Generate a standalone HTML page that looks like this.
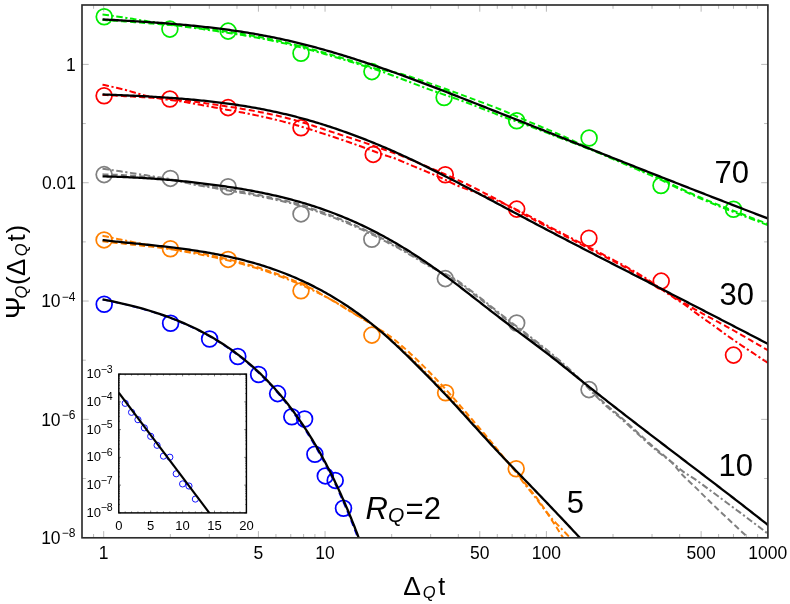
<!DOCTYPE html>
<html><head><meta charset="utf-8"><title>chart</title>
<style>html,body{margin:0;padding:0;background:#fff;overflow:hidden}svg{display:block;will-change:transform}text{font-family:"Liberation Sans",sans-serif}</style>
</head><body>
<svg width="790" height="604" viewBox="0 0 790 604" style="display:block">
<rect x="0" y="0" width="790" height="604" fill="#fff"/>
<defs><clipPath id="cp"><rect x="82.0" y="5.0" width="685.9" height="532.8"/></clipPath><clipPath id="ci"><rect x="118.8" y="374.1" width="127.6" height="138.8"/></clipPath></defs>
<g clip-path="url(#cp)" fill="none">
<circle cx="104.2" cy="16.8" r="7.9" stroke="#00ec00" stroke-width="1.75"/>
<circle cx="169.9" cy="29.1" r="7.9" stroke="#00ec00" stroke-width="1.75"/>
<circle cx="228.1" cy="31.1" r="7.9" stroke="#00ec00" stroke-width="1.75"/>
<circle cx="301" cy="53.2" r="7.9" stroke="#00ec00" stroke-width="1.75"/>
<circle cx="371.9" cy="71.6" r="7.9" stroke="#00ec00" stroke-width="1.75"/>
<circle cx="444.1" cy="97.5" r="7.9" stroke="#00ec00" stroke-width="1.75"/>
<circle cx="516.7" cy="120.8" r="7.9" stroke="#00ec00" stroke-width="1.75"/>
<circle cx="589.1" cy="138" r="7.9" stroke="#00ec00" stroke-width="1.75"/>
<circle cx="661" cy="185.5" r="7.9" stroke="#00ec00" stroke-width="1.75"/>
<circle cx="733.5" cy="209.2" r="7.9" stroke="#00ec00" stroke-width="1.75"/>
<circle cx="104.1" cy="95.7" r="7.9" stroke="#ff0000" stroke-width="1.75"/>
<circle cx="169.9" cy="99" r="7.9" stroke="#ff0000" stroke-width="1.75"/>
<circle cx="228.1" cy="107.6" r="7.9" stroke="#ff0000" stroke-width="1.75"/>
<circle cx="301" cy="127.8" r="7.9" stroke="#ff0000" stroke-width="1.75"/>
<circle cx="373.2" cy="154.4" r="7.9" stroke="#ff0000" stroke-width="1.75"/>
<circle cx="445.3" cy="174.7" r="7.9" stroke="#ff0000" stroke-width="1.75"/>
<circle cx="516.7" cy="209.1" r="7.9" stroke="#ff0000" stroke-width="1.75"/>
<circle cx="588.9" cy="238.2" r="7.9" stroke="#ff0000" stroke-width="1.75"/>
<circle cx="661.2" cy="281.1" r="7.9" stroke="#ff0000" stroke-width="1.75"/>
<circle cx="733.5" cy="355.1" r="7.9" stroke="#ff0000" stroke-width="1.75"/>
<circle cx="104.1" cy="174.6" r="7.9" stroke="#808080" stroke-width="1.75"/>
<circle cx="170.4" cy="178.4" r="7.9" stroke="#808080" stroke-width="1.75"/>
<circle cx="228.1" cy="186.7" r="7.9" stroke="#808080" stroke-width="1.75"/>
<circle cx="301" cy="213.9" r="7.9" stroke="#808080" stroke-width="1.75"/>
<circle cx="371.8" cy="239.3" r="7.9" stroke="#808080" stroke-width="1.75"/>
<circle cx="445.3" cy="278.6" r="7.9" stroke="#808080" stroke-width="1.75"/>
<circle cx="516.7" cy="323" r="7.9" stroke="#808080" stroke-width="1.75"/>
<circle cx="589" cy="389.6" r="7.9" stroke="#808080" stroke-width="1.75"/>
<circle cx="104.1" cy="239.9" r="7.9" stroke="#ff8000" stroke-width="1.75"/>
<circle cx="170.4" cy="248.7" r="7.9" stroke="#ff8000" stroke-width="1.75"/>
<circle cx="228.1" cy="259.4" r="7.9" stroke="#ff8000" stroke-width="1.75"/>
<circle cx="301" cy="290.8" r="7.9" stroke="#ff8000" stroke-width="1.75"/>
<circle cx="371.9" cy="335.1" r="7.9" stroke="#ff8000" stroke-width="1.75"/>
<circle cx="445.6" cy="392.8" r="7.9" stroke="#ff8000" stroke-width="1.75"/>
<circle cx="516.2" cy="468.8" r="7.9" stroke="#ff8000" stroke-width="1.75"/>
<circle cx="104.2" cy="304.2" r="7.9" stroke="#0000ff" stroke-width="1.75"/>
<circle cx="170.6" cy="323.3" r="7.9" stroke="#0000ff" stroke-width="1.75"/>
<circle cx="209.6" cy="339" r="7.9" stroke="#0000ff" stroke-width="1.75"/>
<circle cx="237.8" cy="356.5" r="7.9" stroke="#0000ff" stroke-width="1.75"/>
<circle cx="258.6" cy="374.5" r="7.9" stroke="#0000ff" stroke-width="1.75"/>
<circle cx="277.6" cy="393.6" r="7.9" stroke="#0000ff" stroke-width="1.75"/>
<circle cx="291.8" cy="416.7" r="7.9" stroke="#0000ff" stroke-width="1.75"/>
<circle cx="304.6" cy="419" r="7.9" stroke="#0000ff" stroke-width="1.75"/>
<circle cx="314.9" cy="454.3" r="7.9" stroke="#0000ff" stroke-width="1.75"/>
<circle cx="325.3" cy="475.9" r="7.9" stroke="#0000ff" stroke-width="1.75"/>
<circle cx="335.2" cy="480.4" r="7.9" stroke="#0000ff" stroke-width="1.75"/>
<circle cx="343.5" cy="508.2" r="7.9" stroke="#0000ff" stroke-width="1.75"/>
<path d="M102.50 19.89 L104.50 20.01 L106.50 20.15 L108.50 20.28 L110.50 20.42 L112.50 20.56 L114.50 20.70 L116.50 20.83 L118.50 20.97 L120.50 21.11 L122.50 21.26 L124.50 21.40 L126.50 21.54 L128.50 21.69 L130.50 21.84 L132.50 21.98 L134.50 22.13 L136.50 22.28 L138.50 22.44 L140.50 22.59 L142.50 22.75 L144.50 22.91 L146.50 23.07 L148.50 23.24 L150.50 23.40 L152.50 23.57 L154.50 23.74 L156.50 23.92 L158.50 24.09 L160.50 24.27 L162.50 24.45 L164.50 24.64 L166.50 24.81 L168.50 24.96 L170.50 25.11 L172.50 25.27 L174.50 25.43 L176.50 25.60 L178.50 25.77 L180.50 25.95 L182.50 26.14 L184.50 26.33 L186.50 26.53 L188.50 26.73 L190.50 26.94 L192.50 27.15 L194.50 27.37 L196.50 27.59 L198.50 27.82 L200.50 28.05 L202.50 28.28 L204.50 28.52 L206.50 28.77 L208.50 29.02 L210.50 29.27 L212.50 29.53 L214.50 29.79 L216.50 30.06 L218.50 30.33 L220.50 30.61 L222.50 30.89 L224.50 31.17 L226.50 31.46 L228.50 31.76 L230.50 32.06 L232.50 32.37 L234.50 32.68 L236.50 32.99 L238.50 33.31 L240.50 33.63 L242.50 33.96 L244.50 34.30 L246.50 34.63 L248.50 34.98 L250.50 35.33 L252.50 35.68 L254.50 36.04 L256.50 36.41 L258.50 36.78 L260.50 37.16 L262.50 37.54 L264.50 37.93 L266.50 38.33 L268.50 38.73 L270.50 39.14 L272.50 39.56 L274.50 39.98 L276.50 40.41 L278.50 40.85 L280.50 41.30 L282.50 41.75 L284.50 42.21 L286.50 42.68 L288.50 43.16 L290.50 43.65 L292.50 44.14 L294.50 44.64 L296.50 45.15 L298.50 45.66 L300.50 46.18 L302.50 46.70 L304.50 47.23 L306.50 47.77 L308.50 48.31 L310.50 48.86 L312.50 49.41 L314.50 49.96 L316.50 50.52 L318.50 51.08 L320.50 51.65 L322.50 52.22 L324.50 52.79 L326.50 53.37 L328.50 53.95 L330.50 54.53 L332.50 55.11 L334.50 55.70 L336.50 56.29 L338.50 56.89 L340.50 57.49 L342.50 58.10 L344.50 58.71 L346.50 59.32 L348.50 59.94 L350.50 60.56 L352.50 61.18 L354.50 61.81 L356.50 62.45 L358.50 63.08 L360.50 63.72 L362.50 64.37 L364.50 65.01 L366.50 65.66 L368.50 66.31 L370.50 66.97 L372.50 67.62 L374.50 68.25 L376.50 68.85 L378.50 69.28 L380.50 69.67 L382.50 70.05 L384.50 70.41 L386.50 70.78 L388.50 71.17 L390.50 71.58 L392.50 71.97 L394.50 72.33 L396.50 72.71 L398.50 73.16 L400.50 73.71 L402.50 74.30 L404.50 74.90 L406.50 75.52 L408.50 76.15 L410.50 76.78 L412.50 77.43 L414.50 78.09 L416.50 78.75 L418.50 79.42 L420.50 80.10 L422.50 80.79 L424.50 81.48 L426.50 82.17 L428.50 82.87 L430.50 83.58 L432.50 84.29 L434.50 85.00 L436.50 85.71 L438.50 86.42 L440.50 87.13 L442.50 87.85 L444.50 88.56 L446.50 89.28 L448.50 90.01 L450.50 90.73 L452.50 91.46 L454.50 92.19 L456.50 92.93 L458.50 93.66 L460.50 94.40 L462.50 95.14 L464.50 95.88 L466.50 96.63 L468.50 97.37 L470.50 98.12 L472.50 98.87 L474.50 99.62 L476.50 100.37 L478.50 101.12 L480.50 101.88 L482.50 102.63 L484.50 103.38 L486.50 104.13 L488.50 104.88 L490.50 105.63 L492.50 106.39 L494.50 107.15 L496.50 107.92 L498.50 108.70 L500.50 109.49 L502.50 110.30 L504.50 111.12 L506.50 111.97 L508.50 112.82 L510.50 113.69 L512.50 114.56 L514.50 115.44 L516.50 116.32 L518.50 117.19 L520.50 118.07 L522.50 118.93 L524.50 119.79 L526.50 120.63 L528.50 121.48 L530.50 122.31 L532.50 123.15 L534.50 123.98 L536.50 124.82 L538.50 125.65 L540.50 126.48 L542.50 127.31 L544.50 128.15 L546.50 128.98 L548.50 129.82 L550.50 130.67 L552.50 131.52 L554.50 132.37 L556.50 133.23 L558.50 134.10 L560.50 134.99 L562.50 135.88 L564.50 136.78 L566.50 137.70 L568.50 138.61 L570.50 139.53 L572.50 140.46 L574.50 141.38 L576.50 142.31 L578.50 143.23 L580.50 144.15 L582.50 145.09 L584.50 146.03 L586.50 146.98 L588.50 147.91 L590.50 148.82 L592.50 149.71 L594.50 150.58 L596.50 151.43 L598.50 152.27 L600.50 153.11 L602.50 153.95 L604.50 154.78 L606.50 155.62 L608.50 156.45 L610.50 157.28 L612.50 158.12 L614.50 158.95 L616.50 159.79 L618.50 160.63 L620.50 161.47 L622.50 162.31 L624.50 163.16 L626.50 164.01 L628.50 164.86 L630.50 165.70 L632.50 166.55 L634.50 167.40 L636.50 168.24 L638.50 169.08 L640.50 169.93 L642.50 170.77 L644.50 171.62 L646.50 172.47 L648.50 173.33 L650.50 174.19 L652.50 175.05 L654.50 175.92 L656.50 176.80 L658.50 177.69 L660.50 178.59 L662.50 179.53 L664.50 180.51 L666.50 181.53 L668.50 182.56 L670.50 183.59 L672.50 184.60 L674.50 185.58 L676.50 186.53 L678.50 187.48 L680.50 188.43 L682.50 189.37 L684.50 190.31 L686.50 191.24 L688.50 192.17 L690.50 193.10 L692.50 194.01 L694.50 194.91 L696.50 195.80 L698.50 196.67 L700.50 197.52 L702.50 198.37 L704.50 199.19 L706.50 200.01 L708.50 200.82 L710.50 201.64 L712.50 202.45 L714.50 203.25 L716.50 204.06 L718.50 204.86 L720.50 205.66 L722.50 206.45 L724.50 207.25 L726.50 208.04 L728.50 208.82 L730.50 209.60 L732.50 210.38 L734.50 211.15 L736.50 211.92 L738.50 212.69 L740.50 213.47 L742.50 214.24 L744.50 215.01 L746.50 215.78 L748.50 216.55 L750.50 217.31 L752.50 218.08 L754.50 218.85 L756.50 219.62 L758.50 220.38 L760.50 221.15 L762.50 221.91 L764.50 222.68 L766.50 223.44 L768.50 224.20 L770.50 224.96 L772.50 225.73 L774.50 226.49 L776.50 227.25 L778.50 228.01 L780.50 228.77 L782.50 229.52 L784.50 230.28 L786.50 231.04 L788.50 231.79" stroke="#00ec00" stroke-width="2.0" stroke-dasharray="6 3.2"/>
<path d="M102.50 14.49 L104.50 14.68 L106.50 14.97 L108.50 15.26 L110.50 15.55 L112.50 15.85 L114.50 16.14 L116.50 16.43 L118.50 16.73 L120.50 17.03 L122.50 17.32 L124.50 17.62 L126.50 17.92 L128.50 18.22 L130.50 18.52 L132.50 18.83 L134.50 19.15 L136.50 19.47 L138.50 19.80 L140.50 20.12 L142.50 20.45 L144.50 20.78 L146.50 21.10 L148.50 21.42 L150.50 21.73 L152.50 22.04 L154.50 22.33 L156.50 22.61 L158.50 22.89 L160.50 23.16 L162.50 23.43 L164.50 23.69 L166.50 23.98 L168.50 24.28 L170.50 24.58 L172.50 24.88 L174.50 25.18 L176.50 25.47 L178.50 25.77 L180.50 26.05 L182.50 26.34 L184.50 26.62 L186.50 26.90 L188.50 27.17 L190.50 27.44 L192.50 27.72 L194.50 28.00 L196.50 28.27 L198.50 28.55 L200.50 28.83 L202.50 29.12 L204.50 29.40 L206.50 29.68 L208.50 29.97 L210.50 30.26 L212.50 30.55 L214.50 30.84 L216.50 31.13 L218.50 31.42 L220.50 31.72 L222.50 32.02 L224.50 32.32 L226.50 32.62 L228.50 32.92 L230.50 33.22 L232.50 33.53 L234.50 33.84 L236.50 34.16 L238.50 34.48 L240.50 34.80 L242.50 35.13 L244.50 35.46 L246.50 35.80 L248.50 36.15 L250.50 36.50 L252.50 36.85 L254.50 37.21 L256.50 37.58 L258.50 37.95 L260.50 38.33 L262.50 38.72 L264.50 39.11 L266.50 39.51 L268.50 39.91 L270.50 40.32 L272.50 40.74 L274.50 41.16 L276.50 41.59 L278.50 42.03 L280.50 42.48 L282.50 42.93 L284.50 43.40 L286.50 43.87 L288.50 44.35 L290.50 44.83 L292.50 45.33 L294.50 45.83 L296.50 46.33 L298.50 46.85 L300.50 47.37 L302.50 47.89 L304.50 48.42 L306.50 48.96 L308.50 49.50 L310.50 50.05 L312.50 50.60 L314.50 51.15 L316.50 51.71 L318.50 52.28 L320.50 52.84 L322.50 53.41 L324.50 53.99 L326.50 54.56 L328.50 55.14 L330.50 55.72 L332.50 56.30 L334.50 56.89 L336.50 57.48 L338.50 58.08 L340.50 58.67 L342.50 59.28 L344.50 59.88 L346.50 60.49 L348.50 61.10 L350.50 61.71 L352.50 62.33 L354.50 62.95 L356.50 63.57 L358.50 64.20 L360.50 64.82 L362.50 65.46 L364.50 66.09 L366.50 66.72 L368.50 67.36 L370.50 68.00 L372.50 68.63 L374.50 69.21 L376.50 69.77 L378.50 70.46 L380.50 71.15 L382.50 71.85 L384.50 72.55 L386.50 73.27 L388.50 73.99 L390.50 74.72 L392.50 75.46 L394.50 76.20 L396.50 76.95 L398.50 77.70 L400.50 78.46 L402.50 79.22 L404.50 79.98 L406.50 80.75 L408.50 81.51 L410.50 82.28 L412.50 83.05 L414.50 83.82 L416.50 84.59 L418.50 85.35 L420.50 86.12 L422.50 86.88 L424.50 87.64 L426.50 88.39 L428.50 89.13 L430.50 89.86 L432.50 90.58 L434.50 91.30 L436.50 92.00 L438.50 92.70 L440.50 93.40 L442.50 94.09 L444.50 94.78 L446.50 95.46 L448.50 96.15 L450.50 96.84 L452.50 97.53 L454.50 98.23 L456.50 98.92 L458.50 99.63 L460.50 100.34 L462.50 101.06 L464.50 101.79 L466.50 102.53 L468.50 103.28 L470.50 104.05 L472.50 104.82 L474.50 105.60 L476.50 106.38 L478.50 107.17 L480.50 107.95 L482.50 108.73 L484.50 109.52 L486.50 110.30 L488.50 111.09 L490.50 111.88 L492.50 112.66 L494.50 113.44 L496.50 114.23 L498.50 115.01 L500.50 115.79 L502.50 116.55 L504.50 117.28 L506.50 118.00 L508.50 118.71 L510.50 119.41 L512.50 120.10 L514.50 120.78 L516.50 121.47 L518.50 122.16 L520.50 122.87 L522.50 123.58 L524.50 124.31 L526.50 125.06 L528.50 125.81 L530.50 126.57 L532.50 127.32 L534.50 128.08 L536.50 128.84 L538.50 129.61 L540.50 130.37 L542.50 131.14 L544.50 131.90 L546.50 132.67 L548.50 133.44 L550.50 134.21 L552.50 134.97 L554.50 135.74 L556.50 136.51 L558.50 137.27 L560.50 138.03 L562.50 138.79 L564.50 139.55 L566.50 140.31 L568.50 141.07 L570.50 141.84 L572.50 142.60 L574.50 143.36 L576.50 144.12 L578.50 144.89 L580.50 145.65 L582.50 146.42 L584.50 147.20 L586.50 147.97 L588.50 148.76 L590.50 149.55 L592.50 150.36 L594.50 151.18 L596.50 152.00 L598.50 152.84 L600.50 153.68 L602.50 154.53 L604.50 155.39 L606.50 156.25 L608.50 157.11 L610.50 157.98 L612.50 158.85 L614.50 159.72 L616.50 160.58 L618.50 161.45 L620.50 162.31 L622.50 163.18 L624.50 164.04 L626.50 164.90 L628.50 165.76 L630.50 166.62 L632.50 167.48 L634.50 168.33 L636.50 169.18 L638.50 170.03 L640.50 170.88 L642.50 171.73 L644.50 172.59 L646.50 173.44 L648.50 174.30 L650.50 175.16 L652.50 176.03 L654.50 176.90 L656.50 177.78 L658.50 178.67 L660.50 179.57 L662.50 180.51 L664.50 181.50 L666.50 182.51 L668.50 183.54 L670.50 184.57 L672.50 185.58 L674.50 186.55 L676.50 187.49 L678.50 188.44 L680.50 189.38 L682.50 190.31 L684.50 191.25 L686.50 192.17 L688.50 193.10 L690.50 194.01 L692.50 194.92 L694.50 195.82 L696.50 196.71 L698.50 197.60 L700.50 198.48 L702.50 199.34 L704.50 200.19 L706.50 201.03 L708.50 201.86 L710.50 202.69 L712.50 203.52 L714.50 204.35 L716.50 205.17 L718.50 205.99 L720.50 206.81 L722.50 207.62 L724.50 208.42 L726.50 209.22 L728.50 210.01 L730.50 210.80 L732.50 211.58 L734.50 212.35 L736.50 213.12 L738.50 213.89 L740.50 214.67 L742.50 215.44 L744.50 216.21 L746.50 216.98 L748.50 217.75 L750.50 218.51 L752.50 219.28 L754.50 220.05 L756.50 220.82 L758.50 221.58 L760.50 222.35 L762.50 223.11 L764.50 223.88 L766.50 224.64 L768.50 225.40 L770.50 226.16 L772.50 226.93 L774.50 227.69 L776.50 228.45 L778.50 229.21 L780.50 229.97 L782.50 230.72 L784.50 231.48 L786.50 232.24 L788.50 232.99" stroke="#00ec00" stroke-width="2.0" stroke-dasharray="6.5 2.6 2.2 2.6"/>
<path d="M102.50 94.92 L104.50 95.01 L106.50 95.12 L108.50 95.23 L110.50 95.34 L112.50 95.45 L114.50 95.56 L116.50 95.67 L118.50 95.78 L120.50 95.90 L122.50 96.01 L124.50 96.13 L126.50 96.24 L128.50 96.36 L130.50 96.48 L132.50 96.60 L134.50 96.72 L136.50 96.84 L138.50 96.97 L140.50 97.09 L142.50 97.22 L144.50 97.35 L146.50 97.48 L148.50 97.61 L150.50 97.74 L152.50 97.85 L154.50 97.91 L156.50 97.95 L158.50 97.99 L160.50 98.04 L162.50 98.15 L164.50 98.37 L166.50 98.59 L168.50 98.82 L170.50 99.05 L172.50 99.30 L174.50 99.54 L176.50 99.75 L178.50 99.94 L180.50 100.13 L182.50 100.33 L184.50 100.54 L186.50 100.76 L188.50 100.99 L190.50 101.23 L192.50 101.48 L194.50 101.73 L196.50 101.99 L198.50 102.26 L200.50 102.54 L202.50 102.82 L204.50 103.10 L206.50 103.39 L208.50 103.68 L210.50 103.98 L212.50 104.28 L214.50 104.58 L216.50 104.88 L218.50 105.18 L220.50 105.49 L222.50 105.79 L224.50 106.09 L226.50 106.40 L228.50 106.70 L230.50 107.00 L232.50 107.30 L234.50 107.61 L236.50 107.93 L238.50 108.25 L240.50 108.57 L242.50 108.90 L244.50 109.24 L246.50 109.58 L248.50 109.93 L250.50 110.28 L252.50 110.64 L254.50 111.01 L256.50 111.38 L258.50 111.76 L260.50 112.15 L262.50 112.54 L264.50 112.94 L266.50 113.35 L268.50 113.77 L270.50 114.20 L272.50 114.63 L274.50 115.07 L276.50 115.53 L278.50 115.99 L280.50 116.46 L282.50 116.94 L284.50 117.43 L286.50 117.93 L288.50 118.44 L290.50 118.97 L292.50 119.52 L294.50 120.07 L296.50 120.64 L298.50 121.22 L300.50 121.82 L302.50 122.42 L304.50 123.03 L306.50 123.65 L308.50 124.28 L310.50 124.91 L312.50 125.55 L314.50 126.20 L316.50 126.85 L318.50 127.50 L320.50 128.16 L322.50 128.82 L324.50 129.48 L326.50 130.14 L328.50 130.80 L330.50 131.45 L332.50 132.11 L334.50 132.77 L336.50 133.42 L338.50 134.07 L340.50 134.72 L342.50 135.37 L344.50 136.03 L346.50 136.68 L348.50 137.33 L350.50 137.99 L352.50 138.64 L354.50 139.30 L356.50 139.97 L358.50 140.63 L360.50 141.30 L362.50 141.97 L364.50 142.65 L366.50 143.33 L368.50 144.01 L370.50 144.71 L372.50 145.40 L374.50 146.11 L376.50 146.82 L378.50 147.54 L380.50 148.26 L382.50 148.99 L384.50 149.70 L386.50 150.40 L388.50 151.09 L390.50 151.78 L392.50 152.48 L394.50 153.19 L396.50 153.91 L398.50 154.66 L400.50 155.44 L402.50 156.23 L404.50 157.05 L406.50 157.88 L408.50 158.71 L410.50 159.56 L412.50 160.42 L414.50 161.27 L416.50 162.13 L418.50 162.98 L420.50 163.83 L422.50 164.67 L424.50 165.51 L426.50 166.34 L428.50 167.17 L430.50 168.00 L432.50 168.83 L434.50 169.67 L436.50 170.52 L438.50 171.37 L440.50 172.24 L442.50 173.11 L444.50 173.99 L446.50 174.87 L448.50 175.76 L450.50 176.66 L452.50 177.56 L454.50 178.47 L456.50 179.39 L458.50 180.30 L460.50 181.22 L462.50 182.14 L464.50 183.07 L466.50 184.02 L468.50 184.99 L470.50 185.98 L472.50 186.98 L474.50 187.98 L476.50 188.99 L478.50 189.99 L480.50 191.01 L482.50 192.02 L484.50 193.04 L486.50 194.06 L488.50 195.09 L490.50 196.13 L492.50 197.16 L494.50 198.21 L496.50 199.26 L498.50 200.32 L500.50 201.46 L502.50 202.58 L504.50 203.70 L506.50 204.82 L508.50 205.93 L510.50 207.04 L512.50 208.15 L514.50 209.26 L516.50 210.35 L518.50 211.45 L520.50 212.54 L522.50 213.62 L524.50 214.70 L526.50 215.78 L528.50 216.84 L530.50 217.91 L532.50 218.96 L534.50 220.02 L536.50 221.08 L538.50 222.13 L540.50 223.19 L542.50 224.24 L544.50 225.29 L546.50 226.34 L548.50 227.39 L550.50 228.44 L552.50 229.49 L554.50 230.54 L556.50 231.58 L558.50 232.63 L560.50 233.67 L562.50 234.71 L564.50 235.76 L566.50 236.80 L568.50 237.84 L570.50 238.88 L572.50 239.92 L574.50 240.96 L576.50 241.99 L578.50 243.03 L580.50 244.07 L582.50 245.10 L584.50 246.14 L586.50 247.17 L588.50 248.20 L590.50 249.24 L592.50 250.27 L594.50 251.30 L596.50 252.33 L598.50 253.36 L600.50 254.39 L602.50 255.43 L604.50 256.47 L606.50 257.51 L608.50 258.56 L610.50 259.61 L612.50 260.67 L614.50 261.73 L616.50 262.79 L618.50 263.86 L620.50 264.93 L622.50 265.99 L624.50 267.07 L626.50 268.16 L628.50 269.28 L630.50 270.40 L632.50 271.55 L634.50 272.70 L636.50 273.87 L638.50 275.04 L640.50 276.22 L642.50 277.41 L644.50 278.61 L646.50 279.85 L648.50 281.12 L650.50 282.40 L652.50 283.67 L654.50 284.92 L656.50 286.14 L658.50 287.32 L660.50 288.47 L662.50 289.64 L664.50 290.85 L666.50 292.09 L668.50 293.36 L670.50 294.63 L672.50 295.88 L674.50 297.09 L676.50 298.30 L678.50 299.58 L680.50 300.86 L682.50 302.15 L684.50 303.32 L686.50 304.38 L688.50 305.45 L690.50 306.55 L692.50 307.78 L694.50 309.05 L696.50 310.23 L698.50 311.35 L700.50 312.46 L702.50 313.56 L704.50 314.66 L706.50 315.74 L708.50 316.82 L710.50 317.90 L712.50 318.97 L714.50 320.04 L716.50 321.12 L718.50 322.19 L720.50 323.27 L722.50 324.35 L724.50 325.44 L726.50 326.53 L728.50 327.64 L730.50 328.75 L732.50 329.87 L734.50 331.00 L736.50 332.13 L738.50 333.26 L740.50 334.41 L742.50 335.55 L744.50 336.70 L746.50 337.85 L748.50 339.00 L750.50 340.16 L752.50 341.32 L754.50 342.47 L756.50 343.63 L758.50 344.79 L760.50 345.95 L762.50 347.11 L764.50 348.26 L766.50 349.42 L768.50 350.57 L770.50 351.72 L772.50 352.87 L774.50 354.03 L776.50 355.18 L778.50 356.34 L780.50 357.49 L782.50 358.65 L784.50 359.81 L786.50 360.96 L788.50 362.12" stroke="#ff0000" stroke-width="2.0" stroke-dasharray="6 3.2"/>
<path d="M102.50 84.82 L104.50 85.05 L106.50 85.49 L108.50 85.94 L110.50 86.39 L112.50 86.85 L114.50 87.32 L116.50 87.79 L118.50 88.27 L120.50 88.75 L122.50 89.24 L124.50 89.73 L126.50 90.24 L128.50 90.78 L130.50 91.35 L132.50 91.94 L134.50 92.53 L136.50 93.13 L138.50 93.72 L140.50 94.29 L142.50 94.85 L144.50 95.37 L146.50 95.86 L148.50 96.30 L150.50 96.68 L152.50 97.06 L154.50 97.49 L156.50 97.92 L158.50 98.34 L160.50 98.75 L162.50 99.09 L164.50 99.33 L166.50 99.56 L168.50 99.78 L170.50 100.01 L172.50 100.23 L174.50 100.45 L176.50 100.73 L178.50 101.04 L180.50 101.36 L182.50 101.69 L184.50 102.02 L186.50 102.36 L188.50 102.70 L190.50 103.05 L192.50 103.40 L194.50 103.76 L196.50 104.12 L198.50 104.48 L200.50 104.85 L202.50 105.22 L204.50 105.59 L206.50 105.96 L208.50 106.33 L210.50 106.70 L212.50 107.08 L214.50 107.45 L216.50 107.82 L218.50 108.19 L220.50 108.56 L222.50 108.93 L224.50 109.29 L226.50 109.65 L228.50 110.01 L230.50 110.37 L232.50 110.73 L234.50 111.10 L236.50 111.47 L238.50 111.84 L240.50 112.21 L242.50 112.59 L244.50 112.98 L246.50 113.37 L248.50 113.76 L250.50 114.16 L252.50 114.56 L254.50 114.97 L256.50 115.39 L258.50 115.81 L260.50 116.23 L262.50 116.67 L264.50 117.11 L266.50 117.55 L268.50 118.01 L270.50 118.47 L272.50 118.94 L274.50 119.41 L276.50 119.89 L278.50 120.39 L280.50 120.88 L282.50 121.39 L284.50 121.91 L286.50 122.44 L288.50 122.97 L290.50 123.52 L292.50 124.08 L294.50 124.64 L296.50 125.22 L298.50 125.81 L300.50 126.40 L302.50 127.00 L304.50 127.61 L306.50 128.23 L308.50 128.85 L310.50 129.47 L312.50 130.11 L314.50 130.74 L316.50 131.39 L318.50 132.03 L320.50 132.68 L322.50 133.33 L324.50 133.98 L326.50 134.64 L328.50 135.30 L330.50 135.95 L332.50 136.61 L334.50 137.28 L336.50 137.95 L338.50 138.62 L340.50 139.30 L342.50 139.98 L344.50 140.66 L346.50 141.35 L348.50 142.05 L350.50 142.75 L352.50 143.45 L354.50 144.16 L356.50 144.87 L358.50 145.59 L360.50 146.31 L362.50 147.03 L364.50 147.76 L366.50 148.49 L368.50 149.23 L370.50 149.97 L372.50 150.72 L374.50 151.47 L376.50 152.22 L378.50 152.98 L380.50 153.75 L382.50 154.49 L384.50 155.16 L386.50 155.78 L388.50 156.37 L390.50 156.97 L392.50 157.60 L394.50 158.30 L396.50 159.08 L398.50 159.89 L400.50 160.72 L402.50 161.56 L404.50 162.41 L406.50 163.27 L408.50 164.12 L410.50 164.96 L412.50 165.80 L414.50 166.63 L416.50 167.46 L418.50 168.29 L420.50 169.11 L422.50 169.95 L424.50 170.78 L426.50 171.62 L428.50 172.46 L430.50 173.29 L432.50 174.12 L434.50 174.96 L436.50 175.82 L438.50 176.69 L440.50 177.59 L442.50 178.52 L444.50 179.46 L446.50 180.43 L448.50 181.40 L450.50 182.36 L452.50 183.32 L454.50 184.27 L456.50 185.18 L458.50 186.04 L460.50 186.85 L462.50 187.62 L464.50 188.37 L466.50 189.09 L468.50 189.80 L470.50 190.50 L472.50 191.21 L474.50 191.93 L476.50 192.67 L478.50 193.44 L480.50 194.20 L482.50 194.93 L484.50 195.66 L486.50 196.39 L488.50 197.12 L490.50 197.87 L492.50 198.65 L494.50 199.45 L496.50 200.30 L498.50 201.19 L500.50 202.07 L502.50 202.98 L504.50 203.90 L506.50 204.83 L508.50 205.77 L510.50 206.71 L512.50 207.66 L514.50 208.62 L516.50 209.59 L518.50 210.57 L520.50 211.57 L522.50 212.57 L524.50 213.58 L526.50 214.61 L528.50 215.65 L530.50 216.71 L532.50 217.77 L534.50 218.83 L536.50 219.88 L538.50 220.94 L540.50 221.99 L542.50 223.04 L544.50 224.10 L546.50 225.15 L548.50 226.20 L550.50 227.25 L552.50 228.29 L554.50 229.34 L556.50 230.39 L558.50 231.43 L560.50 232.48 L562.50 233.52 L564.50 234.56 L566.50 235.60 L568.50 236.64 L570.50 237.68 L572.50 238.72 L574.50 239.76 L576.50 240.80 L578.50 241.83 L580.50 242.87 L582.50 243.91 L584.50 244.94 L586.50 245.97 L588.50 247.01 L590.50 248.04 L592.50 249.07 L594.50 250.11 L596.50 251.14 L598.50 252.17 L600.50 253.20 L602.50 254.23 L604.50 255.27 L606.50 256.32 L608.50 257.37 L610.50 258.42 L612.50 259.48 L614.50 260.54 L616.50 261.60 L618.50 262.66 L620.50 263.73 L622.50 264.80 L624.50 265.88 L626.50 266.97 L628.50 268.09 L630.50 269.22 L632.50 270.36 L634.50 271.52 L636.50 272.69 L638.50 273.87 L640.50 275.06 L642.50 276.25 L644.50 277.47 L646.50 278.75 L648.50 280.07 L650.50 281.43 L652.50 282.82 L654.50 284.26 L656.50 285.71 L658.50 287.17 L660.50 288.61 L662.50 290.04 L664.50 291.43 L666.50 292.78 L668.50 294.11 L670.50 295.42 L672.50 296.75 L674.50 298.10 L676.50 299.43 L678.50 300.68 L680.50 301.90 L682.50 303.10 L684.50 304.45 L686.50 305.94 L688.50 307.44 L690.50 308.94 L692.50 310.44 L694.50 311.94 L696.50 313.42 L698.50 314.87 L700.50 316.31 L702.50 317.74 L704.50 319.15 L706.50 320.57 L708.50 321.98 L710.50 323.40 L712.50 324.82 L714.50 326.25 L716.50 327.70 L718.50 329.16 L720.50 330.65 L722.50 332.15 L724.50 333.63 L726.50 335.09 L728.50 336.51 L730.50 337.91 L732.50 339.29 L734.50 340.67 L736.50 342.03 L738.50 343.38 L740.50 344.73 L742.50 346.07 L744.50 347.40 L746.50 348.73 L748.50 350.06 L750.50 351.38 L752.50 352.70 L754.50 354.03 L756.50 355.35 L758.50 356.67 L760.50 358.00 L762.50 359.34 L764.50 360.67 L766.50 362.02 L768.50 363.37 L770.50 364.72 L772.50 366.08 L774.50 367.44 L776.50 368.79 L778.50 370.15 L780.50 371.51 L782.50 372.88 L784.50 374.24 L786.50 375.60 L788.50 376.97" stroke="#ff0000" stroke-width="2.0" stroke-dasharray="6.5 2.6 2.2 2.6"/>
<path d="M102.50 174.37 L104.50 174.42 L106.50 174.46 L108.50 174.52 L110.50 174.58 L112.50 174.65 L114.50 174.72 L116.50 174.80 L118.50 174.89 L120.50 174.98 L122.50 175.08 L124.50 175.18 L126.50 175.29 L128.50 175.40 L130.50 175.51 L132.50 175.64 L134.50 175.77 L136.50 175.92 L138.50 176.08 L140.50 176.25 L142.50 176.42 L144.50 176.61 L146.50 176.80 L148.50 177.01 L150.50 177.21 L152.50 177.43 L154.50 177.65 L156.50 177.88 L158.50 178.17 L160.50 178.46 L162.50 178.74 L164.50 179.03 L166.50 179.31 L168.50 179.59 L170.50 179.87 L172.50 180.14 L174.50 180.42 L176.50 180.69 L178.50 180.98 L180.50 181.28 L182.50 181.59 L184.50 181.92 L186.50 182.25 L188.50 182.60 L190.50 182.94 L192.50 183.29 L194.50 183.62 L196.50 183.95 L198.50 184.27 L200.50 184.60 L202.50 184.93 L204.50 185.27 L206.50 185.60 L208.50 185.94 L210.50 186.27 L212.50 186.61 L214.50 186.95 L216.50 187.30 L218.50 187.64 L220.50 187.98 L222.50 188.33 L224.50 188.67 L226.50 189.02 L228.50 189.36 L230.50 189.71 L232.50 190.06 L234.50 190.42 L236.50 190.77 L238.50 191.12 L240.50 191.48 L242.50 191.84 L244.50 192.20 L246.50 192.57 L248.50 192.94 L250.50 193.32 L252.50 193.71 L254.50 194.10 L256.50 194.50 L258.50 194.90 L260.50 195.31 L262.50 195.73 L264.50 196.15 L266.50 196.58 L268.50 197.01 L270.50 197.45 L272.50 197.90 L274.50 198.34 L276.50 198.78 L278.50 199.22 L280.50 199.66 L282.50 200.11 L284.50 200.56 L286.50 201.01 L288.50 201.48 L290.50 201.96 L292.50 202.45 L294.50 202.95 L296.50 203.47 L298.50 204.01 L300.50 204.57 L302.50 205.16 L304.50 205.85 L306.50 206.64 L308.50 207.44 L310.50 208.18 L312.50 208.84 L314.50 209.51 L316.50 210.19 L318.50 210.87 L320.50 211.57 L322.50 212.28 L324.50 212.99 L326.50 213.72 L328.50 214.46 L330.50 215.21 L332.50 215.97 L334.50 216.74 L336.50 217.52 L338.50 218.31 L340.50 219.12 L342.50 219.93 L344.50 220.76 L346.50 221.60 L348.50 222.45 L350.50 223.31 L352.50 224.18 L354.50 225.07 L356.50 225.97 L358.50 226.88 L360.50 227.80 L362.50 228.73 L364.50 229.67 L366.50 230.62 L368.50 231.58 L370.50 232.55 L372.50 233.54 L374.50 234.53 L376.50 235.54 L378.50 236.56 L380.50 237.59 L382.50 238.63 L384.50 239.68 L386.50 240.75 L388.50 241.82 L390.50 242.87 L392.50 243.91 L394.50 244.94 L396.50 245.99 L398.50 247.04 L400.50 248.12 L402.50 249.22 L404.50 250.35 L406.50 251.51 L408.50 252.68 L410.50 253.86 L412.50 255.06 L414.50 256.28 L416.50 257.50 L418.50 258.73 L420.50 259.96 L422.50 261.20 L424.50 262.43 L426.50 263.67 L428.50 264.90 L430.50 266.09 L432.50 267.26 L434.50 268.44 L436.50 269.67 L438.50 270.93 L440.50 272.17 L442.50 273.35 L444.50 274.47 L446.50 275.54 L448.50 276.60 L450.50 277.68 L452.50 278.80 L454.50 279.99 L456.50 281.26 L458.50 282.62 L460.50 284.08 L462.50 285.56 L464.50 287.05 L466.50 288.54 L468.50 290.05 L470.50 291.56 L472.50 293.09 L474.50 294.61 L476.50 296.15 L478.50 297.69 L480.50 299.24 L482.50 300.79 L484.50 302.35 L486.50 303.92 L488.50 305.51 L490.50 307.11 L492.50 308.72 L494.50 310.33 L496.50 311.94 L498.50 313.54 L500.50 315.12 L502.50 316.69 L504.50 318.24 L506.50 319.79 L508.50 321.33 L510.50 322.86 L512.50 324.39 L514.50 325.91 L516.50 327.44 L518.50 328.96 L520.50 330.48 L522.50 332.01 L524.50 333.54 L526.50 335.07 L528.50 336.61 L530.50 338.16 L532.50 339.71 L534.50 341.28 L536.50 342.84 L538.50 344.42 L540.50 346.01 L542.50 347.61 L544.50 349.21 L546.50 350.82 L548.50 352.45 L550.50 354.09 L552.50 355.73 L554.50 357.39 L556.50 359.07 L558.50 360.75 L560.50 362.46 L562.50 364.17 L564.50 365.90 L566.50 367.63 L568.50 369.38 L570.50 371.13 L572.50 372.90 L574.50 374.67 L576.50 376.44 L578.50 378.19 L580.50 379.94 L582.50 381.69 L584.50 383.49 L586.50 385.35 L588.50 387.29 L590.50 389.28 L592.50 391.31 L594.50 393.35 L596.50 395.39 L598.50 397.40 L600.50 399.38 L602.50 401.31 L604.50 403.18 L606.50 404.98 L608.50 406.72 L610.50 408.42 L612.50 410.10 L614.50 411.77 L616.50 413.45 L618.50 415.14 L620.50 416.87 L622.50 418.63 L624.50 420.44 L626.50 422.27 L628.50 424.12 L630.50 425.99 L632.50 427.85 L634.50 429.71 L636.50 431.56 L638.50 433.37 L640.50 435.18 L642.50 436.99 L644.50 438.81 L646.50 440.62 L648.50 442.43 L650.50 444.21 L652.50 445.97 L654.50 447.69 L656.50 449.37 L658.50 451.03 L660.50 452.73 L662.50 454.38 L664.50 456.03 L666.50 457.69 L668.50 459.40 L670.50 461.16 L672.50 463.23 L674.50 465.52 L676.50 467.89 L678.50 470.34 L680.50 472.73 L682.50 474.96 L684.50 476.97 L686.50 478.92 L688.50 480.81 L690.50 482.68 L692.50 484.55 L694.50 486.44 L696.50 488.37 L698.50 490.35 L700.50 492.35 L702.50 494.36 L704.50 496.37 L706.50 498.36 L708.50 500.33 L710.50 502.26 L712.50 504.18 L714.50 506.10 L716.50 508.00 L718.50 509.90 L720.50 511.79 L722.50 513.68 L724.50 515.56 L726.50 517.44 L728.50 519.31 L730.50 521.19 L732.50 523.06 L734.50 524.93 L736.50 526.80 L738.50 528.67 L740.50 530.55 L742.50 532.43 L744.50 534.31 L746.50 536.19 L748.50 538.09 L750.50 539.97 L752.50 541.85 L754.50 543.72 L756.50 545.60 L758.50 547.47 L760.50 549.36 L762.50 551.26 L764.50 553.18 L766.50 555.13 L768.50 557.10 L770.50 559.09 L772.50 561.10 L774.50 563.13 L776.50 565.18 L778.50 567.25 L780.50 569.34 L782.50 571.45 L784.50 573.58 L786.50 575.72 L788.50 577.88" stroke="#808080" stroke-width="2.0" stroke-dasharray="6 3.2"/>
<path d="M102.50 168.87 L104.50 169.01 L106.50 169.30 L108.50 169.59 L110.50 169.88 L112.50 170.17 L114.50 170.47 L116.50 170.76 L118.50 171.06 L120.50 171.36 L122.50 171.66 L124.50 171.96 L126.50 172.26 L128.50 172.56 L130.50 172.87 L132.50 173.17 L134.50 173.48 L136.50 173.79 L138.50 174.10 L140.50 174.41 L142.50 174.72 L144.50 175.04 L146.50 175.36 L148.50 175.68 L150.50 176.00 L152.50 176.32 L154.50 176.65 L156.50 176.98 L158.50 177.26 L160.50 177.55 L162.50 177.86 L164.50 178.18 L166.50 178.51 L168.50 178.86 L170.50 179.23 L172.50 179.61 L174.50 180.01 L176.50 180.43 L178.50 180.87 L180.50 181.35 L182.50 181.84 L184.50 182.35 L186.50 182.86 L188.50 183.35 L190.50 183.83 L192.50 184.27 L194.50 184.68 L196.50 185.04 L198.50 185.38 L200.50 185.72 L202.50 186.06 L204.50 186.40 L206.50 186.74 L208.50 187.09 L210.50 187.43 L212.50 187.77 L214.50 188.12 L216.50 188.46 L218.50 188.81 L220.50 189.16 L222.50 189.50 L224.50 189.85 L226.50 190.20 L228.50 190.55 L230.50 190.90 L232.50 191.25 L234.50 191.60 L236.50 191.96 L238.50 192.31 L240.50 192.67 L242.50 193.03 L244.50 193.39 L246.50 193.76 L248.50 194.13 L250.50 194.52 L252.50 194.90 L254.50 195.29 L256.50 195.69 L258.50 196.10 L260.50 196.51 L262.50 196.92 L264.50 197.34 L266.50 197.77 L268.50 198.21 L270.50 198.64 L272.50 199.09 L274.50 199.53 L276.50 199.97 L278.50 200.41 L280.50 200.85 L282.50 201.30 L284.50 201.75 L286.50 202.20 L288.50 202.67 L290.50 203.14 L292.50 203.63 L294.50 204.14 L296.50 204.66 L298.50 205.19 L300.50 205.75 L302.50 206.34 L304.50 207.04 L306.50 207.83 L308.50 208.63 L310.50 209.37 L312.50 210.04 L314.50 210.70 L316.50 211.38 L318.50 212.07 L320.50 212.77 L322.50 213.47 L324.50 214.19 L326.50 214.92 L328.50 215.66 L330.50 216.40 L332.50 217.16 L334.50 217.93 L336.50 218.72 L338.50 219.51 L340.50 220.31 L342.50 221.13 L344.50 221.95 L346.50 222.79 L348.50 223.64 L350.50 224.50 L352.50 225.38 L354.50 226.26 L356.50 227.16 L358.50 228.07 L360.50 228.99 L362.50 229.92 L364.50 230.86 L366.50 231.81 L368.50 232.77 L370.50 233.75 L372.50 234.73 L374.50 235.73 L376.50 236.73 L378.50 237.75 L380.50 238.78 L382.50 239.82 L384.50 240.88 L386.50 241.94 L388.50 243.01 L390.50 244.06 L392.50 245.10 L394.50 246.13 L396.50 247.17 L398.50 248.22 L400.50 249.29 L402.50 250.39 L404.50 251.52 L406.50 252.67 L408.50 253.83 L410.50 255.02 L412.50 256.21 L414.50 257.42 L416.50 258.63 L418.50 259.85 L420.50 261.07 L422.50 262.29 L424.50 263.50 L426.50 264.71 L428.50 265.90 L430.50 267.00 L432.50 268.01 L434.50 268.96 L436.50 269.88 L438.50 270.81 L440.50 271.71 L442.50 272.59 L444.50 273.50 L446.50 274.46 L448.50 275.46 L450.50 276.51 L452.50 277.62 L454.50 278.80 L456.50 280.06 L458.50 281.43 L460.50 282.88 L462.50 284.36 L464.50 285.85 L466.50 287.35 L468.50 288.85 L470.50 290.37 L472.50 291.89 L474.50 293.42 L476.50 294.95 L478.50 296.49 L480.50 298.04 L482.50 299.59 L484.50 301.15 L486.50 302.72 L488.50 304.31 L490.50 305.91 L492.50 307.53 L494.50 309.14 L496.50 310.75 L498.50 312.34 L500.50 313.93 L502.50 315.49 L504.50 317.05 L506.50 318.59 L508.50 320.13 L510.50 321.67 L512.50 323.19 L514.50 324.72 L516.50 326.24 L518.50 327.77 L520.50 329.29 L522.50 330.82 L524.50 332.35 L526.50 333.88 L528.50 335.42 L530.50 336.97 L532.50 338.52 L534.50 340.09 L536.50 341.66 L538.50 343.24 L540.50 344.83 L542.50 346.42 L544.50 348.03 L546.50 349.65 L548.50 351.28 L550.50 352.92 L552.50 354.57 L554.50 356.24 L556.50 357.92 L558.50 359.62 L560.50 361.33 L562.50 363.07 L564.50 364.81 L566.50 366.58 L568.50 368.37 L570.50 370.19 L572.50 372.05 L574.50 373.94 L576.50 375.88 L578.50 377.86 L580.50 379.87 L582.50 381.92 L584.50 384.03 L586.50 386.16 L588.50 388.28 L590.50 390.38 L592.50 392.46 L594.50 394.53 L596.50 396.58 L598.50 398.59 L600.50 400.57 L602.50 402.50 L604.50 404.38 L606.50 406.18 L608.50 407.92 L610.50 409.62 L612.50 411.30 L614.50 412.97 L616.50 414.65 L618.50 416.34 L620.50 418.07 L622.50 419.83 L624.50 421.64 L626.50 423.47 L628.50 425.32 L630.50 427.19 L632.50 429.05 L634.50 430.91 L636.50 432.76 L638.50 434.57 L640.50 436.37 L642.50 438.18 L644.50 439.99 L646.50 441.79 L648.50 443.59 L650.50 445.37 L652.50 447.13 L654.50 448.86 L656.50 450.55 L658.50 452.18 L660.50 453.70 L662.50 455.21 L664.50 456.72 L666.50 458.22 L668.50 459.72 L670.50 461.21 L672.50 462.67 L674.50 464.28 L676.50 466.03 L678.50 467.77 L680.50 469.47 L682.50 471.09 L684.50 472.57 L686.50 473.90 L688.50 475.15 L690.50 476.35 L692.50 477.56 L694.50 478.85 L696.50 480.25 L698.50 481.70 L700.50 483.16 L702.50 484.63 L704.50 486.11 L706.50 487.60 L708.50 489.09 L710.50 490.58 L712.50 492.08 L714.50 493.57 L716.50 495.05 L718.50 496.54 L720.50 498.02 L722.50 499.51 L724.50 500.99 L726.50 502.48 L728.50 503.97 L730.50 505.46 L732.50 506.95 L734.50 508.44 L736.50 509.93 L738.50 511.42 L740.50 512.92 L742.50 514.42 L744.50 515.92 L746.50 517.42 L748.50 518.93 L750.50 520.44 L752.50 521.95 L754.50 523.46 L756.50 524.98 L758.50 526.51 L760.50 528.03 L762.50 529.56 L764.50 531.10 L766.50 532.64 L768.50 534.18 L770.50 535.73 L772.50 537.28 L774.50 538.83 L776.50 540.39 L778.50 541.95 L780.50 543.52 L782.50 545.09 L784.50 546.66 L786.50 548.24 L788.50 549.83" stroke="#808080" stroke-width="2.0" stroke-dasharray="6.5 2.6 2.2 2.6"/>
<path d="M102.50 241.33 L104.50 241.55 L106.50 241.78 L108.50 242.01 L110.50 242.24 L112.50 242.46 L114.50 242.68 L116.50 242.90 L118.50 243.12 L120.50 243.34 L122.50 243.56 L124.50 243.78 L126.50 244.00 L128.50 244.21 L130.50 244.43 L132.50 244.65 L134.50 244.86 L136.50 245.08 L138.50 245.30 L140.50 245.52 L142.50 245.74 L144.50 245.96 L146.50 246.18 L148.50 246.41 L150.50 246.63 L152.50 246.86 L154.50 247.09 L156.50 247.32 L158.50 247.50 L160.50 247.69 L162.50 247.88 L164.50 248.07 L166.50 248.27 L168.50 248.49 L170.50 248.71 L172.50 248.95 L174.50 249.19 L176.50 249.46 L178.50 249.73 L180.50 250.02 L182.50 250.31 L184.50 250.62 L186.50 250.94 L188.50 251.26 L190.50 251.60 L192.50 251.94 L194.50 252.29 L196.50 252.65 L198.50 253.01 L200.50 253.37 L202.50 253.75 L204.50 254.14 L206.50 254.54 L208.50 254.94 L210.50 255.36 L212.50 255.78 L214.50 256.21 L216.50 256.65 L218.50 257.09 L220.50 257.54 L222.50 257.99 L224.50 258.45 L226.50 258.92 L228.50 259.39 L230.50 259.87 L232.50 260.35 L234.50 260.85 L236.50 261.36 L238.50 261.87 L240.50 262.39 L242.50 262.93 L244.50 263.47 L246.50 264.02 L248.50 264.59 L250.50 265.16 L252.50 265.75 L254.50 266.35 L256.50 266.95 L258.50 267.57 L260.50 268.21 L262.50 268.86 L264.50 269.52 L266.50 270.19 L268.50 270.88 L270.50 271.58 L272.50 272.29 L274.50 273.01 L276.50 273.75 L278.50 274.49 L280.50 275.25 L282.50 276.02 L284.50 276.80 L286.50 277.59 L288.50 278.39 L290.50 279.20 L292.50 280.03 L294.50 280.86 L296.50 281.70 L298.50 282.56 L300.50 283.43 L302.50 284.32 L304.50 285.22 L306.50 286.14 L308.50 287.08 L310.50 288.03 L312.50 289.01 L314.50 290.00 L316.50 291.04 L318.50 292.42 L320.50 293.82 L322.50 294.94 L324.50 296.04 L326.50 297.14 L328.50 298.24 L330.50 299.35 L332.50 300.46 L334.50 301.59 L336.50 302.72 L338.50 303.87 L340.50 305.04 L342.50 306.22 L344.50 307.42 L346.50 308.64 L348.50 309.88 L350.50 311.12 L352.50 312.38 L354.50 313.63 L356.50 314.90 L358.50 316.16 L360.50 317.43 L362.50 318.69 L364.50 319.95 L366.50 321.19 L368.50 322.41 L370.50 323.64 L372.50 324.90 L374.50 326.24 L376.50 327.61 L378.50 328.86 L380.50 330.02 L382.50 331.20 L384.50 332.48 L386.50 333.81 L388.50 335.20 L390.50 336.65 L392.50 338.18 L394.50 339.74 L396.50 341.33 L398.50 342.98 L400.50 344.69 L402.50 346.45 L404.50 348.23 L406.50 350.03 L408.50 351.85 L410.50 353.68 L412.50 355.54 L414.50 357.41 L416.50 359.31 L418.50 361.23 L420.50 363.18 L422.50 365.15 L424.50 367.14 L426.50 369.16 L428.50 371.20 L430.50 373.26 L432.50 375.33 L434.50 377.41 L436.50 379.51 L438.50 381.62 L440.50 383.74 L442.50 385.88 L444.50 388.03 L446.50 390.19 L448.50 392.38 L450.50 394.60 L452.50 396.85 L454.50 399.12 L456.50 401.41 L458.50 403.72 L460.50 406.04 L462.50 408.36 L464.50 410.69 L466.50 413.01 L468.50 415.33 L470.50 417.66 L472.50 419.98 L474.50 422.30 L476.50 424.63 L478.50 426.96 L480.50 429.29 L482.50 431.63 L484.50 433.97 L486.50 436.32 L488.50 438.68 L490.50 441.05 L492.50 443.45 L494.50 445.90 L496.50 448.37 L498.50 450.85 L500.50 453.34 L502.50 455.85 L504.50 458.27 L506.50 460.61 L508.50 462.88 L510.50 465.12 L512.50 467.35 L514.50 469.60 L516.50 471.94 L518.50 474.56 L520.50 477.35 L522.50 480.10 L524.50 482.69 L526.50 485.20 L528.50 487.67 L530.50 490.12 L532.50 492.59 L534.50 495.10 L536.50 497.69 L538.50 500.38 L540.50 503.14 L542.50 505.99 L544.50 508.96 L546.50 512.03 L548.50 515.17 L550.50 518.18 L552.50 521.19 L554.50 524.23 L556.50 527.33 L558.50 530.48 L560.50 533.65 L562.50 536.79 L564.50 539.91 L566.50 543.01 L568.50 546.10 L570.50 549.19 L572.50 552.28 L574.50 555.37 L576.50 558.47 L578.50 561.58 L580.50 564.71 L582.50 567.84 L584.50 570.99 L586.50 574.14 L588.50 577.30 L590.50 580.47 L592.50 583.65 L594.50 586.83 L596.50 590.02 L598.50 593.22" stroke="#ff8000" stroke-width="2.0" stroke-dasharray="6 3.2"/>
<path d="M102.50 235.83 L104.50 236.14 L106.50 236.58 L108.50 237.02 L110.50 237.45 L112.50 237.88 L114.50 238.30 L116.50 238.72 L118.50 239.14 L120.50 239.55 L122.50 239.96 L124.50 240.36 L126.50 240.77 L128.50 241.17 L130.50 241.58 L132.50 241.98 L134.50 242.38 L136.50 242.78 L138.50 243.17 L140.50 243.56 L142.50 243.94 L144.50 244.31 L146.50 244.66 L148.50 245.02 L150.50 245.37 L152.50 245.73 L154.50 246.08 L156.50 246.43 L158.50 246.83 L160.50 247.23 L162.50 247.62 L164.50 248.02 L166.50 248.40 L168.50 248.78 L170.50 249.15 L172.50 249.51 L174.50 249.87 L176.50 250.23 L178.50 250.58 L180.50 250.93 L182.50 251.28 L184.50 251.63 L186.50 251.98 L188.50 252.33 L190.50 252.68 L192.50 253.04 L194.50 253.40 L196.50 253.77 L198.50 254.14 L200.50 254.53 L202.50 254.92 L204.50 255.31 L206.50 255.71 L208.50 256.12 L210.50 256.53 L212.50 256.96 L214.50 257.39 L216.50 257.83 L218.50 258.28 L220.50 258.73 L222.50 259.18 L224.50 259.64 L226.50 260.11 L228.50 260.58 L230.50 261.06 L232.50 261.55 L234.50 262.04 L236.50 262.55 L238.50 263.06 L240.50 263.59 L242.50 264.12 L244.50 264.67 L246.50 265.22 L248.50 265.78 L250.50 266.36 L252.50 266.94 L254.50 267.54 L256.50 268.15 L258.50 268.77 L260.50 269.40 L262.50 270.05 L264.50 270.71 L266.50 271.39 L268.50 272.07 L270.50 272.77 L272.50 273.48 L274.50 274.21 L276.50 274.94 L278.50 275.69 L280.50 276.45 L282.50 277.22 L284.50 278.00 L286.50 278.79 L288.50 279.59 L290.50 280.40 L292.50 281.22 L294.50 282.05 L296.50 282.89 L298.50 283.75 L300.50 284.62 L302.50 285.50 L304.50 286.40 L306.50 287.32 L308.50 288.26 L310.50 289.21 L312.50 290.19 L314.50 291.19 L316.50 292.19 L318.50 293.07 L320.50 293.97 L322.50 295.01 L324.50 296.08 L326.50 297.18 L328.50 298.29 L330.50 299.43 L332.50 300.58 L334.50 301.76 L336.50 302.95 L338.50 304.16 L340.50 305.38 L342.50 306.62 L344.50 307.87 L346.50 309.13 L348.50 310.37 L350.50 311.56 L352.50 312.72 L354.50 313.86 L356.50 315.02 L358.50 316.19 L360.50 317.37 L362.50 318.49 L364.50 319.59 L366.50 320.72 L368.50 321.92 L370.50 323.21 L372.50 324.58 L374.50 325.97 L376.50 327.37 L378.50 328.91 L380.50 330.58 L382.50 332.27 L384.50 333.92 L386.50 335.59 L388.50 337.29 L390.50 339.00 L392.50 340.73 L394.50 342.47 L396.50 344.23 L398.50 346.03 L400.50 347.86 L402.50 349.74 L404.50 351.63 L406.50 353.54 L408.50 355.47 L410.50 357.41 L412.50 359.36 L414.50 361.33 L416.50 363.31 L418.50 365.30 L420.50 367.30 L422.50 369.31 L424.50 371.33 L426.50 373.36 L428.50 375.40 L430.50 377.44 L432.50 379.49 L434.50 381.54 L436.50 383.61 L438.50 385.68 L440.50 387.76 L442.50 389.85 L444.50 391.95 L446.50 394.07 L448.50 396.20 L450.50 398.34 L452.50 400.50 L454.50 402.68 L456.50 404.87 L458.50 407.07 L460.50 409.28 L462.50 411.49 L464.50 413.71 L466.50 415.94 L468.50 418.17 L470.50 420.40 L472.50 422.64 L474.50 424.88 L476.50 427.12 L478.50 429.36 L480.50 431.60 L482.50 433.85 L484.50 436.09 L486.50 438.33 L488.50 440.58 L490.50 442.81 L492.50 445.07 L494.50 447.34 L496.50 449.62 L498.50 451.91 L500.50 454.18 L502.50 456.42 L504.50 458.69 L506.50 460.97 L508.50 463.26 L510.50 465.56 L512.50 467.89 L514.50 470.29 L516.50 472.77 L518.50 475.52 L520.50 478.44 L522.50 481.29 L524.50 483.88 L526.50 486.39 L528.50 488.86 L530.50 491.31 L532.50 493.78 L534.50 496.30 L536.50 498.88 L538.50 501.57 L540.50 504.34 L542.50 507.06 L544.50 509.62 L546.50 512.01 L548.50 514.40 L550.50 516.91 L552.50 519.31 L554.50 521.49 L556.50 523.59 L558.50 525.67 L560.50 527.75 L562.50 529.84 L564.50 531.92 L566.50 534.02 L568.50 536.12 L570.50 538.25 L572.50 540.39 L574.50 542.52 L576.50 544.67 L578.50 546.81 L580.50 548.96 L582.50 551.11 L584.50 553.27 L586.50 555.43 L588.50 557.60 L590.50 559.77 L592.50 561.94 L594.50 564.12 L596.50 566.30 L598.50 568.48" stroke="#ff8000" stroke-width="2.0" stroke-dasharray="6.5 2.6 2.2 2.6"/>
<path d="M102.70 299.68 L111.86 301.48 L120.23 303.29 L127.92 305.09 L135.05 306.90 L141.68 308.70 L147.88 310.51 L153.71 312.31 L159.20 314.11 L164.40 315.92 L169.33 317.72 L174.02 319.53 L178.50 321.33 L182.77 323.14 L186.86 324.94 L190.78 326.75 L194.55 328.55 L198.18 330.35 L201.68 332.16 L205.05 333.96 L208.31 335.77 L211.46 337.57 L214.51 339.38 L217.47 341.18 L220.34 342.98 L223.13 344.79 L225.84 346.59 L228.47 348.40 L231.04 350.20 L233.53 352.01 L235.97 353.81 L238.34 355.62 L240.66 357.42 L242.92 359.22 L245.13 361.03 L247.29 362.83 L249.40 364.64 L251.47 366.44 L253.49 368.25 L255.47 370.05 L257.42 371.85 L259.32 373.66 L261.19 375.46 L263.02 377.27 L264.82 379.07 L266.58 380.88 L268.31 382.68 L270.01 384.49 L271.68 386.29 L273.33 388.09 L274.94 389.90 L276.53 391.70 L278.10 393.51 L279.63 395.31 L281.15 397.12 L282.64 398.92 L284.11 400.72 L285.55 402.53 L286.98 404.33 L288.38 406.14 L289.76 407.94 L291.13 409.75 L292.47 411.55 L293.80 413.36 L295.10 415.16 L296.39 416.96 L297.67 418.77 L298.92 420.57 L300.17 422.38 L301.39 424.18 L302.60 425.99 L303.79 427.79 L304.97 429.59 L306.14 431.40 L307.29 433.20 L308.43 435.01 L309.55 436.81 L310.66 438.62 L311.76 440.42 L312.85 442.23 L313.92 444.03 L314.98 445.83 L316.03 447.64 L317.07 449.44 L318.10 451.25 L319.12 453.05 L320.13 454.86 L321.12 456.66 L322.11 458.46 L323.08 460.27 L324.05 462.07 L325.01 463.88 L325.95 465.68 L326.89 467.49 L327.82 469.29 L328.74 471.10 L329.65 472.90 L330.55 474.70 L331.45 476.51 L332.33 478.31 L333.21 480.12 L334.08 481.92 L334.94 483.73 L335.80 485.53 L336.65 487.33 L337.49 489.14 L338.32 490.94 L339.14 492.75 L339.96 494.55 L340.77 496.36 L341.58 498.16 L342.37 499.97 L343.17 501.77 L343.95 503.57 L344.73 505.38 L345.50 507.18 L346.27 508.99 L347.03 510.79 L347.78 512.60 L348.53 514.40 L349.27 516.20 L350.01 518.01 L350.74 519.81 L351.46 521.62 L352.18 523.42 L352.90 525.23 L353.61 527.03 L354.31 528.84 L355.01 530.64 L355.71 532.44 L356.40 534.25 L357.08 536.05 L357.76 537.86 L358.43 539.66 L359.10 541.47 L359.77 543.27 L360.43 545.08 L361.09 546.88 L361.74 548.68 L362.38 550.49 L363.03 552.29" stroke="#0000ff" stroke-width="1.6" stroke-dasharray="6 4"/>
<path d="M103.70 19.46 L105.70 19.57 L107.70 19.68 L109.70 19.79 L111.70 19.90 L113.70 20.01 L115.70 20.13 L117.70 20.24 L119.70 20.35 L121.70 20.46 L123.70 20.58 L125.70 20.69 L127.70 20.81 L129.70 20.93 L131.70 21.05 L133.70 21.17 L135.70 21.29 L137.70 21.41 L139.70 21.54 L141.70 21.66 L143.70 21.79 L145.70 21.92 L147.70 22.05 L149.70 22.18 L151.70 22.32 L153.70 22.45 L155.70 22.59 L157.70 22.73 L159.70 22.88 L161.70 23.02 L163.70 23.17 L165.70 23.32 L167.70 23.48 L169.70 23.63 L171.70 23.79 L173.70 23.96 L175.70 24.12 L177.70 24.29 L179.70 24.46 L181.70 24.64 L183.70 24.81 L185.70 25.00 L187.70 25.18 L189.70 25.37 L191.70 25.56 L193.70 25.76 L195.70 25.96 L197.70 26.16 L199.70 26.37 L201.70 26.58 L203.70 26.80 L205.70 27.02 L207.70 27.24 L209.70 27.47 L211.70 27.70 L213.70 27.94 L215.70 28.18 L217.70 28.42 L219.70 28.67 L221.70 28.93 L223.70 29.19 L225.70 29.45 L227.70 29.72 L229.70 30.00 L231.70 30.28 L233.70 30.56 L235.70 30.85 L237.70 31.15 L239.70 31.45 L241.70 31.76 L243.70 32.07 L245.70 32.39 L247.70 32.71 L249.70 33.04 L251.70 33.37 L253.70 33.71 L255.70 34.06 L257.70 34.41 L259.70 34.77 L261.70 35.14 L263.70 35.51 L265.70 35.89 L267.70 36.27 L269.70 36.66 L271.70 37.06 L273.70 37.46 L275.70 37.87 L277.70 38.29 L279.70 38.71 L281.70 39.14 L283.70 39.58 L285.70 40.02 L287.70 40.48 L289.70 40.93 L291.70 41.40 L293.70 41.87 L295.70 42.35 L297.70 42.83 L299.70 43.32 L301.70 43.82 L303.70 44.32 L305.70 44.83 L307.70 45.34 L309.70 45.86 L311.70 46.39 L313.70 46.92 L315.70 47.46 L317.70 48.01 L319.70 48.56 L321.70 49.11 L323.70 49.67 L325.70 50.24 L327.70 50.81 L329.70 51.39 L331.70 51.97 L333.70 52.56 L335.70 53.15 L337.70 53.75 L339.70 54.36 L341.70 54.96 L343.70 55.58 L345.70 56.20 L347.70 56.82 L349.70 57.45 L351.70 58.08 L353.70 58.71 L355.70 59.35 L357.70 60.00 L359.70 60.65 L361.70 61.30 L363.70 61.96 L365.70 62.62 L367.70 63.29 L369.70 63.96 L371.70 64.63 L373.70 65.31 L375.70 66.00 L377.70 66.68 L379.70 67.37 L381.70 68.06 L383.70 68.76 L385.70 69.46 L387.70 70.16 L389.70 70.87 L391.70 71.58 L393.70 72.29 L395.70 73.01 L397.70 73.73 L399.70 74.45 L401.70 75.18 L403.70 75.91 L405.70 76.64 L407.70 77.37 L409.70 78.11 L411.70 78.85 L413.70 79.59 L415.70 80.34 L417.70 81.08 L419.70 81.83 L421.70 82.58 L423.70 83.34 L425.70 84.09 L427.70 84.85 L429.70 85.61 L431.70 86.37 L433.70 87.14 L435.70 87.90 L437.70 88.67 L439.70 89.44 L441.70 90.21 L443.70 90.98 L445.70 91.75 L447.70 92.53 L449.70 93.31 L451.70 94.08 L453.70 94.86 L455.70 95.64 L457.70 96.42 L459.70 97.21 L461.70 97.99 L463.70 98.77 L465.70 99.56 L467.70 100.34 L469.70 101.13 L471.70 101.92 L473.70 102.71 L475.70 103.49 L477.70 104.28 L479.70 105.07 L481.70 105.86 L483.70 106.65 L485.70 107.44 L487.70 108.23 L489.70 109.02 L491.70 109.81 L493.70 110.60 L495.70 111.39 L497.70 112.18 L499.70 112.97 L501.70 113.76 L503.70 114.56 L505.70 115.35 L507.70 116.14 L509.70 116.93 L511.70 117.73 L513.70 118.52 L515.70 119.31 L517.70 120.10 L519.70 120.90 L521.70 121.69 L523.70 122.48 L525.70 123.28 L527.70 124.07 L529.70 124.87 L531.70 125.66 L533.70 126.45 L535.70 127.25 L537.70 128.04 L539.70 128.84 L541.70 129.63 L543.70 130.43 L545.70 131.22 L547.70 132.02 L549.70 132.81 L551.70 133.61 L553.70 134.40 L555.70 135.20 L557.70 135.99 L559.70 136.79 L561.70 137.58 L563.70 138.38 L565.70 139.17 L567.70 139.97 L569.70 140.76 L571.70 141.56 L573.70 142.35 L575.70 143.15 L577.70 143.94 L579.70 144.74 L581.70 145.53 L583.70 146.33 L585.70 147.12 L587.70 147.92 L589.70 148.71 L591.70 149.50 L593.70 150.30 L595.70 151.09 L597.70 151.89 L599.70 152.68 L601.70 153.48 L603.70 154.27 L605.70 155.06 L607.70 155.86 L609.70 156.65 L611.70 157.45 L613.70 158.24 L615.70 159.03 L617.70 159.83 L619.70 160.62 L621.70 161.41 L623.70 162.20 L625.70 163.00 L627.70 163.79 L629.70 164.58 L631.70 165.37 L633.70 166.16 L635.70 166.96 L637.70 167.75 L639.70 168.54 L641.70 169.33 L643.70 170.12 L645.70 170.91 L647.70 171.70 L649.70 172.49 L651.70 173.28 L653.70 174.07 L655.70 174.86 L657.70 175.65 L659.70 176.43 L661.70 177.22 L663.70 178.01 L665.70 178.80 L667.70 179.58 L669.70 180.37 L671.70 181.16 L673.70 181.94 L675.70 182.73 L677.70 183.52 L679.70 184.30 L681.70 185.09 L683.70 185.87 L685.70 186.65 L687.70 187.44 L689.70 188.22 L691.70 189.00 L693.70 189.79 L695.70 190.57 L697.70 191.35 L699.70 192.13 L701.70 192.91 L703.70 193.69 L705.70 194.47 L707.70 195.25 L709.70 196.03 L711.70 196.81 L713.70 197.59 L715.70 198.36 L717.70 199.14 L719.70 199.92 L721.70 200.69 L723.70 201.47 L725.70 202.25 L727.70 203.02 L729.70 203.79 L731.70 204.57 L733.70 205.34 L735.70 206.11 L737.70 206.89 L739.70 207.66 L741.70 208.43 L743.70 209.20 L745.70 209.97 L747.70 210.74 L749.70 211.51 L751.70 212.27 L753.70 213.04 L755.70 213.81 L757.70 214.58 L759.70 215.34 L761.70 216.11 L763.70 216.87 L765.70 217.63 L767.70 218.40 L769.70 219.16 L771.70 219.92 L773.70 220.68 L775.70 221.44 L777.70 222.20 L779.70 222.96 L781.70 223.72 L783.70 224.48 L785.70 225.24 L787.70 225.99 L789.70 226.75" stroke="#000" stroke-width="2.3" stroke-linecap="square"/>
<path d="M103.70 94.47 L105.70 94.55 L107.70 94.63 L109.70 94.71 L111.70 94.79 L113.70 94.88 L115.70 94.96 L117.70 95.04 L119.70 95.13 L121.70 95.21 L123.70 95.30 L125.70 95.39 L127.70 95.48 L129.70 95.57 L131.70 95.66 L133.70 95.75 L135.70 95.85 L137.70 95.95 L139.70 96.05 L141.70 96.15 L143.70 96.25 L145.70 96.36 L147.70 96.46 L149.70 96.57 L151.70 96.69 L153.70 96.80 L155.70 96.92 L157.70 97.04 L159.70 97.16 L161.70 97.29 L163.70 97.41 L165.70 97.55 L167.70 97.68 L169.70 97.82 L171.70 97.96 L173.70 98.10 L175.70 98.25 L177.70 98.40 L179.70 98.56 L181.70 98.71 L183.70 98.88 L185.70 99.04 L187.70 99.21 L189.70 99.39 L191.70 99.56 L193.70 99.75 L195.70 99.93 L197.70 100.12 L199.70 100.32 L201.70 100.52 L203.70 100.73 L205.70 100.94 L207.70 101.15 L209.70 101.37 L211.70 101.59 L213.70 101.82 L215.70 102.06 L217.70 102.30 L219.70 102.54 L221.70 102.79 L223.70 103.05 L225.70 103.31 L227.70 103.58 L229.70 103.85 L231.70 104.13 L233.70 104.42 L235.70 104.71 L237.70 105.01 L239.70 105.31 L241.70 105.62 L243.70 105.94 L245.70 106.26 L247.70 106.59 L249.70 106.93 L251.70 107.27 L253.70 107.62 L255.70 107.98 L257.70 108.34 L259.70 108.71 L261.70 109.09 L263.70 109.48 L265.70 109.87 L267.70 110.27 L269.70 110.68 L271.70 111.10 L273.70 111.52 L275.70 111.95 L277.70 112.39 L279.70 112.84 L281.70 113.30 L283.70 113.76 L285.70 114.23 L287.70 114.71 L289.70 115.20 L291.70 115.70 L293.70 116.20 L295.70 116.72 L297.70 117.24 L299.70 117.77 L301.70 118.31 L303.70 118.86 L305.70 119.41 L307.70 119.97 L309.70 120.54 L311.70 121.12 L313.70 121.71 L315.70 122.31 L317.70 122.91 L319.70 123.52 L321.70 124.14 L323.70 124.76 L325.70 125.40 L327.70 126.04 L329.70 126.69 L331.70 127.35 L333.70 128.02 L335.70 128.69 L337.70 129.37 L339.70 130.06 L341.70 130.75 L343.70 131.46 L345.70 132.17 L347.70 132.89 L349.70 133.61 L351.70 134.35 L353.70 135.09 L355.70 135.84 L357.70 136.59 L359.70 137.35 L361.70 138.12 L363.70 138.90 L365.70 139.69 L367.70 140.48 L369.70 141.28 L371.70 142.08 L373.70 142.90 L375.70 143.72 L377.70 144.55 L379.70 145.38 L381.70 146.22 L383.70 147.07 L385.70 147.92 L387.70 148.79 L389.70 149.66 L391.70 150.53 L393.70 151.41 L395.70 152.30 L397.70 153.20 L399.70 154.10 L401.70 155.01 L403.70 155.93 L405.70 156.85 L407.70 157.78 L409.70 158.71 L411.70 159.65 L413.70 160.60 L415.70 161.55 L417.70 162.51 L419.70 163.47 L421.70 164.44 L423.70 165.42 L425.70 166.39 L427.70 167.38 L429.70 168.37 L431.70 169.36 L433.70 170.35 L435.70 171.36 L437.70 172.36 L439.70 173.37 L441.70 174.38 L443.70 175.40 L445.70 176.42 L447.70 177.44 L449.70 178.47 L451.70 179.50 L453.70 180.53 L455.70 181.56 L457.70 182.60 L459.70 183.64 L461.70 184.68 L463.70 185.73 L465.70 186.77 L467.70 187.82 L469.70 188.87 L471.70 189.92 L473.70 190.98 L475.70 192.03 L477.70 193.09 L479.70 194.14 L481.70 195.20 L483.70 196.26 L485.70 197.32 L487.70 198.38 L489.70 199.44 L491.70 200.50 L493.70 201.56 L495.70 202.62 L497.70 203.69 L499.70 204.75 L501.70 205.81 L503.70 206.88 L505.70 207.94 L507.70 209.00 L509.70 210.07 L511.70 211.13 L513.70 212.19 L515.70 213.26 L517.70 214.32 L519.70 215.38 L521.70 216.44 L523.70 217.50 L525.70 218.56 L527.70 219.62 L529.70 220.68 L531.70 221.74 L533.70 222.80 L535.70 223.86 L537.70 224.91 L539.70 225.97 L541.70 227.02 L543.70 228.07 L545.70 229.13 L547.70 230.18 L549.70 231.22 L551.70 232.27 L553.70 233.32 L555.70 234.37 L557.70 235.41 L559.70 236.46 L561.70 237.50 L563.70 238.54 L565.70 239.58 L567.70 240.63 L569.70 241.67 L571.70 242.70 L573.70 243.74 L575.70 244.78 L577.70 245.82 L579.70 246.85 L581.70 247.89 L583.70 248.92 L585.70 249.96 L587.70 250.99 L589.70 252.03 L591.70 253.06 L593.70 254.09 L595.70 255.12 L597.70 256.15 L599.70 257.18 L601.70 258.21 L603.70 259.24 L605.70 260.27 L607.70 261.30 L609.70 262.33 L611.70 263.36 L613.70 264.39 L615.70 265.42 L617.70 266.44 L619.70 267.47 L621.70 268.50 L623.70 269.52 L625.70 270.55 L627.70 271.58 L629.70 272.60 L631.70 273.63 L633.70 274.66 L635.70 275.68 L637.70 276.71 L639.70 277.74 L641.70 278.76 L643.70 279.79 L645.70 280.82 L647.70 281.84 L649.70 282.87 L651.70 283.89 L653.70 284.92 L655.70 285.95 L657.70 286.97 L659.70 288.00 L661.70 289.03 L663.70 290.05 L665.70 291.08 L667.70 292.11 L669.70 293.13 L671.70 294.16 L673.70 295.19 L675.70 296.21 L677.70 297.24 L679.70 298.27 L681.70 299.30 L683.70 300.33 L685.70 301.35 L687.70 302.38 L689.70 303.41 L691.70 304.44 L693.70 305.47 L695.70 306.50 L697.70 307.53 L699.70 308.56 L701.70 309.59 L703.70 310.62 L705.70 311.65 L707.70 312.68 L709.70 313.71 L711.70 314.74 L713.70 315.77 L715.70 316.81 L717.70 317.84 L719.70 318.87 L721.70 319.91 L723.70 320.94 L725.70 321.97 L727.70 323.01 L729.70 324.04 L731.70 325.08 L733.70 326.11 L735.70 327.15 L737.70 328.19 L739.70 329.22 L741.70 330.26 L743.70 331.30 L745.70 332.34 L747.70 333.38 L749.70 334.42 L751.70 335.46 L753.70 336.50 L755.70 337.54 L757.70 338.58 L759.70 339.62 L761.70 340.67 L763.70 341.71 L765.70 342.75 L767.70 343.80 L769.70 344.84 L771.70 345.89 L773.70 346.94 L775.70 347.98 L777.70 349.03 L779.70 350.08 L781.70 351.13 L783.70 352.18 L785.70 353.23 L787.70 354.28 L789.70 355.33" stroke="#000" stroke-width="2.3" stroke-linecap="square"/>
<path d="M103.70 176.40 L105.70 176.44 L107.70 176.49 L109.70 176.54 L111.70 176.60 L113.70 176.66 L115.70 176.72 L117.70 176.79 L119.70 176.86 L121.70 176.94 L123.70 177.02 L125.70 177.10 L127.70 177.19 L129.70 177.28 L131.70 177.38 L133.70 177.48 L135.70 177.58 L137.70 177.69 L139.70 177.80 L141.70 177.92 L143.70 178.04 L145.70 178.16 L147.70 178.29 L149.70 178.42 L151.70 178.55 L153.70 178.69 L155.70 178.84 L157.70 178.99 L159.70 179.14 L161.70 179.29 L163.70 179.45 L165.70 179.62 L167.70 179.79 L169.70 179.96 L171.70 180.14 L173.70 180.32 L175.70 180.50 L177.70 180.69 L179.70 180.88 L181.70 181.08 L183.70 181.28 L185.70 181.49 L187.70 181.70 L189.70 181.91 L191.70 182.13 L193.70 182.35 L195.70 182.57 L197.70 182.80 L199.70 183.04 L201.70 183.28 L203.70 183.52 L205.70 183.77 L207.70 184.02 L209.70 184.27 L211.70 184.53 L213.70 184.80 L215.70 185.07 L217.70 185.34 L219.70 185.61 L221.70 185.90 L223.70 186.18 L225.70 186.47 L227.70 186.77 L229.70 187.07 L231.70 187.37 L233.70 187.69 L235.70 188.00 L237.70 188.32 L239.70 188.65 L241.70 188.99 L243.70 189.33 L245.70 189.67 L247.70 190.03 L249.70 190.39 L251.70 190.75 L253.70 191.13 L255.70 191.51 L257.70 191.89 L259.70 192.29 L261.70 192.69 L263.70 193.10 L265.70 193.52 L267.70 193.94 L269.70 194.37 L271.70 194.81 L273.70 195.26 L275.70 195.72 L277.70 196.19 L279.70 196.66 L281.70 197.15 L283.70 197.64 L285.70 198.14 L287.70 198.65 L289.70 199.18 L291.70 199.71 L293.70 200.25 L295.70 200.80 L297.70 201.36 L299.70 201.93 L301.70 202.51 L303.70 203.10 L305.70 203.70 L307.70 204.31 L309.70 204.94 L311.70 205.57 L313.70 206.21 L315.70 206.87 L317.70 207.53 L319.70 208.21 L321.70 208.90 L323.70 209.60 L325.70 210.31 L327.70 211.03 L329.70 211.77 L331.70 212.51 L333.70 213.27 L335.70 214.04 L337.70 214.82 L339.70 215.61 L341.70 216.42 L343.70 217.24 L345.70 218.07 L347.70 218.91 L349.70 219.76 L351.70 220.63 L353.70 221.51 L355.70 222.40 L357.70 223.31 L359.70 224.23 L361.70 225.16 L363.70 226.10 L365.70 227.06 L367.70 228.03 L369.70 229.02 L371.70 230.02 L373.70 231.03 L375.70 232.06 L377.70 233.10 L379.70 234.15 L381.70 235.22 L383.70 236.30 L385.70 237.39 L387.70 238.50 L389.70 239.63 L391.70 240.76 L393.70 241.91 L395.70 243.08 L397.70 244.25 L399.70 245.44 L401.70 246.65 L403.70 247.86 L405.70 249.09 L407.70 250.33 L409.70 251.59 L411.70 252.86 L413.70 254.14 L415.70 255.43 L417.70 256.73 L419.70 258.05 L421.70 259.37 L423.70 260.71 L425.70 262.07 L427.70 263.43 L429.70 264.80 L431.70 266.19 L433.70 267.59 L435.70 269.00 L437.70 270.41 L439.70 271.85 L441.70 273.29 L443.70 274.74 L445.70 276.20 L447.70 277.68 L449.70 279.16 L451.70 280.65 L453.70 282.15 L455.70 283.66 L457.70 285.18 L459.70 286.71 L461.70 288.24 L463.70 289.77 L465.70 291.32 L467.70 292.86 L469.70 294.41 L471.70 295.97 L473.70 297.52 L475.70 299.08 L477.70 300.64 L479.70 302.20 L481.70 303.77 L483.70 305.33 L485.70 306.89 L487.70 308.44 L489.70 310.00 L491.70 311.55 L493.70 313.10 L495.70 314.65 L497.70 316.19 L499.70 317.72 L501.70 319.25 L503.70 320.77 L505.70 322.29 L507.70 323.80 L509.70 325.31 L511.70 326.81 L513.70 328.32 L515.70 329.81 L517.70 331.31 L519.70 332.80 L521.70 334.30 L523.70 335.79 L525.70 337.28 L527.70 338.78 L529.70 340.27 L531.70 341.77 L533.70 343.27 L535.70 344.77 L537.70 346.28 L539.70 347.79 L541.70 349.31 L543.70 350.84 L545.70 352.37 L547.70 353.90 L549.70 355.45 L551.70 357.00 L553.70 358.57 L555.70 360.14 L557.70 361.71 L559.70 363.30 L561.70 364.89 L563.70 366.49 L565.70 368.09 L567.70 369.69 L569.70 371.29 L571.70 372.90 L573.70 374.51 L575.70 376.12 L577.70 377.73 L579.70 379.33 L581.70 380.94 L583.70 382.54 L585.70 384.13 L587.70 385.73 L589.70 387.32 L591.70 388.91 L593.70 390.50 L595.70 392.08 L597.70 393.66 L599.70 395.24 L601.70 396.82 L603.70 398.39 L605.70 399.96 L607.70 401.53 L609.70 403.10 L611.70 404.66 L613.70 406.22 L615.70 407.78 L617.70 409.34 L619.70 410.90 L621.70 412.45 L623.70 414.00 L625.70 415.55 L627.70 417.10 L629.70 418.65 L631.70 420.20 L633.70 421.74 L635.70 423.28 L637.70 424.82 L639.70 426.36 L641.70 427.90 L643.70 429.44 L645.70 430.97 L647.70 432.51 L649.70 434.04 L651.70 435.58 L653.70 437.11 L655.70 438.64 L657.70 440.17 L659.70 441.70 L661.70 443.23 L663.70 444.75 L665.70 446.28 L667.70 447.81 L669.70 449.33 L671.70 450.86 L673.70 452.38 L675.70 453.91 L677.70 455.43 L679.70 456.96 L681.70 458.48 L683.70 460.01 L685.70 461.53 L687.70 463.06 L689.70 464.58 L691.70 466.11 L693.70 467.63 L695.70 469.16 L697.70 470.68 L699.70 472.21 L701.70 473.74 L703.70 475.26 L705.70 476.79 L707.70 478.32 L709.70 479.85 L711.70 481.38 L713.70 482.91 L715.70 484.44 L717.70 485.97 L719.70 487.51 L721.70 489.04 L723.70 490.58 L725.70 492.11 L727.70 493.65 L729.70 495.19 L731.70 496.73 L733.70 498.27 L735.70 499.82 L737.70 501.36 L739.70 502.91 L741.70 504.46 L743.70 506.01 L745.70 507.56 L747.70 509.11 L749.70 510.67 L751.70 512.23 L753.70 513.79 L755.70 515.35 L757.70 516.91 L759.70 518.48 L761.70 520.05 L763.70 521.62 L765.70 523.19 L767.70 524.77 L769.70 526.34 L771.70 527.92 L773.70 529.51 L775.70 531.09 L777.70 532.68 L779.70 534.27 L781.70 535.87 L783.70 537.46 L785.70 539.06 L787.70 540.67 L789.70 542.27" stroke="#000" stroke-width="2.3" stroke-linecap="square"/>
<path d="M103.70 240.26 L105.70 240.48 L107.70 240.69 L109.70 240.90 L111.70 241.11 L113.70 241.32 L115.70 241.52 L117.70 241.73 L119.70 241.93 L121.70 242.13 L123.70 242.34 L125.70 242.54 L127.70 242.74 L129.70 242.93 L131.70 243.13 L133.70 243.33 L135.70 243.53 L137.70 243.73 L139.70 243.94 L141.70 244.14 L143.70 244.34 L145.70 244.54 L147.70 244.75 L149.70 244.96 L151.70 245.17 L153.70 245.38 L155.70 245.59 L157.70 245.81 L159.70 246.03 L161.70 246.25 L163.70 246.47 L165.70 246.70 L167.70 246.93 L169.70 247.17 L171.70 247.41 L173.70 247.65 L175.70 247.90 L177.70 248.15 L179.70 248.41 L181.70 248.67 L183.70 248.93 L185.70 249.21 L187.70 249.48 L189.70 249.76 L191.70 250.05 L193.70 250.35 L195.70 250.65 L197.70 250.95 L199.70 251.27 L201.70 251.59 L203.70 251.91 L205.70 252.25 L207.70 252.59 L209.70 252.94 L211.70 253.30 L213.70 253.66 L215.70 254.04 L217.70 254.42 L219.70 254.81 L221.70 255.21 L223.70 255.62 L225.70 256.03 L227.70 256.46 L229.70 256.90 L231.70 257.34 L233.70 257.80 L235.70 258.26 L237.70 258.74 L239.70 259.23 L241.70 259.72 L243.70 260.23 L245.70 260.75 L247.70 261.28 L249.70 261.82 L251.70 262.38 L253.70 262.94 L255.70 263.52 L257.70 264.11 L259.70 264.72 L261.70 265.33 L263.70 265.96 L265.70 266.60 L267.70 267.26 L269.70 267.93 L271.70 268.61 L273.70 269.30 L275.70 270.01 L277.70 270.74 L279.70 271.47 L281.70 272.23 L283.70 272.99 L285.70 273.77 L287.70 274.57 L289.70 275.38 L291.70 276.21 L293.70 277.05 L295.70 277.91 L297.70 278.79 L299.70 279.68 L301.70 280.58 L303.70 281.51 L305.70 282.45 L307.70 283.40 L309.70 284.38 L311.70 285.37 L313.70 286.37 L315.70 287.40 L317.70 288.44 L319.70 289.50 L321.70 290.58 L323.70 291.68 L325.70 292.80 L327.70 293.93 L329.70 295.08 L331.70 296.25 L333.70 297.44 L335.70 298.65 L337.70 299.88 L339.70 301.13 L341.70 302.40 L343.70 303.69 L345.70 305.00 L347.70 306.33 L349.70 307.68 L351.70 309.05 L353.70 310.44 L355.70 311.86 L357.70 313.29 L359.70 314.75 L361.70 316.22 L363.70 317.72 L365.70 319.24 L367.70 320.78 L369.70 322.35 L371.70 323.94 L373.70 325.55 L375.70 327.18 L377.70 328.84 L379.70 330.52 L381.70 332.22 L383.70 333.95 L385.70 335.69 L387.70 337.46 L389.70 339.26 L391.70 341.07 L393.70 342.90 L395.70 344.75 L397.70 346.61 L399.70 348.50 L401.70 350.40 L403.70 352.31 L405.70 354.24 L407.70 356.18 L409.70 358.14 L411.70 360.11 L413.70 362.09 L415.70 364.08 L417.70 366.07 L419.70 368.08 L421.70 370.10 L423.70 372.12 L425.70 374.15 L427.70 376.18 L429.70 378.22 L431.70 380.27 L433.70 382.32 L435.70 384.38 L437.70 386.45 L439.70 388.53 L441.70 390.61 L443.70 392.71 L445.70 394.82 L447.70 396.94 L449.70 399.07 L451.70 401.22 L453.70 403.38 L455.70 405.56 L457.70 407.74 L459.70 409.93 L461.70 412.13 L463.70 414.33 L465.70 416.54 L467.70 418.75 L469.70 420.96 L471.70 423.17 L473.70 425.37 L475.70 427.58 L477.70 429.78 L479.70 431.99 L481.70 434.18 L483.70 436.38 L485.70 438.57 L487.70 440.75 L489.70 442.93 L491.70 445.10 L493.70 447.26 L495.70 449.42 L497.70 451.56 L499.70 453.70 L501.70 455.83 L503.70 457.94 L505.70 460.05 L507.70 462.14 L509.70 464.22 L511.70 466.30 L513.70 468.36 L515.70 470.43 L517.70 472.49 L519.70 474.55 L521.70 476.61 L523.70 478.68 L525.70 480.74 L527.70 482.81 L529.70 484.89 L531.70 486.96 L533.70 489.04 L535.70 491.12 L537.70 493.20 L539.70 495.28 L541.70 497.37 L543.70 499.46 L545.70 501.55 L547.70 503.65 L549.70 505.74 L551.70 507.85 L553.70 509.95 L555.70 512.06 L557.70 514.17 L559.70 516.28 L561.70 518.40 L563.70 520.52 L565.70 522.64 L567.70 524.77 L569.70 526.90 L571.70 529.03 L573.70 531.17 L575.70 533.31 L577.70 535.45 L579.70 537.60 L581.70 539.75 L583.70 541.91 L585.70 544.07 L587.70 546.23 L589.70 548.40 L591.70 550.57 L593.70 552.74 L595.70 554.92 L597.70 557.11 L599.70 559.30" stroke="#000" stroke-width="2.3" stroke-linecap="square"/>
<path d="M103.70 299.68 L112.86 301.48 L121.23 303.29 L128.92 305.09 L136.05 306.90 L142.68 308.70 L148.88 310.51 L154.71 312.31 L160.20 314.11 L165.40 315.92 L170.33 317.72 L175.02 319.53 L179.50 321.33 L183.77 323.14 L187.86 324.94 L191.78 326.75 L195.55 328.55 L199.18 330.35 L202.68 332.16 L206.05 333.96 L209.31 335.77 L212.46 337.57 L215.51 339.38 L218.47 341.18 L221.34 342.98 L224.13 344.79 L226.84 346.59 L229.47 348.40 L232.04 350.20 L234.53 352.01 L236.97 353.81 L239.34 355.62 L241.66 357.42 L243.92 359.22 L246.13 361.03 L248.29 362.83 L250.40 364.64 L252.47 366.44 L254.49 368.25 L256.47 370.05 L258.42 371.85 L260.32 373.66 L262.19 375.46 L264.02 377.27 L265.82 379.07 L267.58 380.88 L269.31 382.68 L271.01 384.49 L272.68 386.29 L274.33 388.09 L275.94 389.90 L277.53 391.70 L279.10 393.51 L280.63 395.31 L282.15 397.12 L283.64 398.92 L285.11 400.72 L286.55 402.53 L287.98 404.33 L289.38 406.14 L290.76 407.94 L292.13 409.75 L293.47 411.55 L294.80 413.36 L296.10 415.16 L297.39 416.96 L298.67 418.77 L299.92 420.57 L301.17 422.38 L302.39 424.18 L303.60 425.99 L304.79 427.79 L305.97 429.59 L307.14 431.40 L308.29 433.20 L309.43 435.01 L310.55 436.81 L311.66 438.62 L312.76 440.42 L313.85 442.23 L314.92 444.03 L315.98 445.83 L317.03 447.64 L318.07 449.44 L319.10 451.25 L320.12 453.05 L321.13 454.86 L322.12 456.66 L323.11 458.46 L324.08 460.27 L325.05 462.07 L326.01 463.88 L326.95 465.68 L327.89 467.49 L328.82 469.29 L329.74 471.10 L330.65 472.90 L331.55 474.70 L332.45 476.51 L333.33 478.31 L334.21 480.12 L335.08 481.92 L335.94 483.73 L336.80 485.53 L337.65 487.33 L338.49 489.14 L339.32 490.94 L340.14 492.75 L340.96 494.55 L341.77 496.36 L342.58 498.16 L343.37 499.97 L344.17 501.77 L344.95 503.57 L345.73 505.38 L346.50 507.18 L347.27 508.99 L348.03 510.79 L348.78 512.60 L349.53 514.40 L350.27 516.20 L351.01 518.01 L351.74 519.81 L352.46 521.62 L353.18 523.42 L353.90 525.23 L354.61 527.03 L355.31 528.84 L356.01 530.64 L356.71 532.44 L357.40 534.25 L358.08 536.05 L358.76 537.86 L359.43 539.66 L360.10 541.47 L360.77 543.27 L361.43 545.08 L362.09 546.88 L362.74 548.68 L363.38 550.49 L364.03 552.29" stroke="#000" stroke-width="2.3" stroke-linecap="square"/>
</g>
<path d="M103.70 537.8 v-6.7 M103.70 5.0 v6.7 M170.33 537.8 v-3.8 M170.33 5.0 v3.8 M209.31 537.8 v-3.8 M209.31 5.0 v3.8 M236.97 537.8 v-3.8 M236.97 5.0 v3.8 M258.42 537.8 v-6.7 M258.42 5.0 v6.7 M275.94 537.8 v-3.8 M275.94 5.0 v3.8 M290.76 537.8 v-3.8 M290.76 5.0 v3.8 M303.60 537.8 v-3.8 M303.60 5.0 v3.8 M314.92 537.8 v-3.8 M314.92 5.0 v3.8 M325.05 537.8 v-6.7 M325.05 5.0 v6.7 M391.68 537.8 v-3.8 M391.68 5.0 v3.8 M430.66 537.8 v-3.8 M430.66 5.0 v3.8 M458.32 537.8 v-3.8 M458.32 5.0 v3.8 M479.77 537.8 v-6.7 M479.77 5.0 v6.7 M497.29 537.8 v-3.8 M497.29 5.0 v3.8 M512.11 537.8 v-3.8 M512.11 5.0 v3.8 M524.95 537.8 v-3.8 M524.95 5.0 v3.8 M536.27 537.8 v-3.8 M536.27 5.0 v3.8 M546.40 537.8 v-6.7 M546.40 5.0 v6.7 M613.03 537.8 v-3.8 M613.03 5.0 v3.8 M652.01 537.8 v-3.8 M652.01 5.0 v3.8 M679.67 537.8 v-3.8 M679.67 5.0 v3.8 M701.12 537.8 v-6.7 M701.12 5.0 v6.7 M718.64 537.8 v-3.8 M718.64 5.0 v3.8 M733.46 537.8 v-3.8 M733.46 5.0 v3.8 M746.30 537.8 v-3.8 M746.30 5.0 v3.8 M757.62 537.8 v-3.8 M757.62 5.0 v3.8 M767.75 537.8 v-6.7 M767.75 5.0 v6.7 M93.57 537.8 v-3.8 M93.57 5.0 v3.8 M82.0 537.68 h6.7 M767.9 537.68 h-6.7 M82.0 478.52 h3.8 M767.9 478.52 h-3.8 M82.0 419.36 h6.7 M767.9 419.36 h-6.7 M82.0 360.20 h3.8 M767.9 360.20 h-3.8 M82.0 301.04 h6.7 M767.9 301.04 h-6.7 M82.0 241.88 h3.8 M767.9 241.88 h-3.8 M82.0 182.72 h6.7 M767.9 182.72 h-6.7 M82.0 123.56 h3.8 M767.9 123.56 h-3.8 M82.0 64.40 h6.7 M767.9 64.40 h-6.7" stroke="#808080" stroke-width="0.55" fill="none"/>
<rect x="82.0" y="5.0" width="685.9" height="532.8" fill="none" stroke="#2c2c2c" stroke-width="1.65"/>
<g font-family="Liberation Sans, sans-serif" fill="#000">
<text x="103.70" y="558.9" font-size="17.5" text-anchor="middle">1</text>
<text x="258.42" y="558.9" font-size="17.5" text-anchor="middle">5</text>
<text x="325.05" y="558.9" font-size="17.5" text-anchor="middle">10</text>
<text x="479.77" y="558.9" font-size="17.5" text-anchor="middle">50</text>
<text x="546.40" y="558.9" font-size="17.5" text-anchor="middle">100</text>
<text x="701.12" y="558.9" font-size="17.5" text-anchor="middle">500</text>
<text x="767.75" y="558.9" font-size="17.5" text-anchor="middle">1000</text>
<text x="75.8" y="70.65" font-size="17.5" text-anchor="end">1</text>
<text x="76.0" y="188.97" font-size="17.5" text-anchor="end">0.01</text>
<text x="60.6" y="307.29" font-size="17.5" text-anchor="end">10</text><text x="61.8" y="300.54" font-size="12">−4</text>
<text x="60.6" y="425.61" font-size="17.5" text-anchor="end">10</text><text x="61.8" y="418.86" font-size="12">−6</text>
<text x="60.6" y="543.93" font-size="17.5" text-anchor="end">10</text><text x="61.8" y="537.18" font-size="12">−8</text>
<text font-size="25"><tspan x="403.3" y="594.6" font-size="26.5">Δ</tspan><tspan x="422.7" y="597.8" font-size="16.5" font-style="italic">Q</tspan><tspan x="438.3" y="594.5">t</tspan></text>
<g transform="translate(24.5,317.4) rotate(-90)"><text x="-1.6" y="0" font-size="27">Ψ</text><text x="18.9" y="2.3" font-size="16.5" font-style="italic">Q</text><text x="32.4" y="0" font-size="26">(</text><text x="41.5" y="0" font-size="26">Δ</text><text x="61.2" y="2.3" font-size="16.5" font-style="italic">Q</text><text x="76" y="0" font-size="26">t</text><text x="84" y="0" font-size="26">)</text></g>
<text x="714.5" y="183" font-size="31">70</text>
<text x="719.5" y="305.2" font-size="31">30</text>
<text x="718.5" y="475.6" font-size="31">10</text>
<text x="566.8" y="513.2" font-size="31">5</text>
<text font-size="31"><tspan x="365.5" y="519.4" font-style="italic">R</tspan><tspan x="388" y="522.4" font-size="21" font-style="italic">Q</tspan><tspan x="405.4" y="519.4">=</tspan><tspan x="423.8" y="519.4">2</tspan></text>
</g>
<rect x="118.8" y="374.1" width="127.60000000000001" height="138.79999999999995" fill="#fff"/>
<g clip-path="url(#ci)" fill="none">
<circle cx="125.18" cy="403.34" r="3.1" stroke="#1414ff" stroke-width="1.0"/>
<circle cx="131.56" cy="412.31" r="3.1" stroke="#1414ff" stroke-width="1.0"/>
<circle cx="137.94" cy="419.67" r="3.1" stroke="#1414ff" stroke-width="1.0"/>
<circle cx="144.32" cy="427.88" r="3.1" stroke="#1414ff" stroke-width="1.0"/>
<circle cx="150.70" cy="436.33" r="3.1" stroke="#1414ff" stroke-width="1.0"/>
<circle cx="157.08" cy="445.29" r="3.1" stroke="#1414ff" stroke-width="1.0"/>
<circle cx="163.46" cy="456.13" r="3.1" stroke="#1414ff" stroke-width="1.0"/>
<circle cx="169.84" cy="457.21" r="3.1" stroke="#1414ff" stroke-width="1.0"/>
<circle cx="176.22" cy="473.78" r="3.1" stroke="#1414ff" stroke-width="1.0"/>
<circle cx="182.60" cy="483.91" r="3.1" stroke="#1414ff" stroke-width="1.0"/>
<circle cx="188.98" cy="486.02" r="3.1" stroke="#1414ff" stroke-width="1.0"/>
<circle cx="195.36" cy="499.07" r="3.1" stroke="#1414ff" stroke-width="1.0"/>
<path d="M118.80 392.75 L214.50 519.76" stroke="#000" stroke-width="2.1"/>
</g>
<path d="M118.80 512.9 v-2.3 M118.80 374.1 v2.3 M125.18 512.9 v-1.5 M125.18 374.1 v1.5 M131.56 512.9 v-1.5 M131.56 374.1 v1.5 M137.94 512.9 v-1.5 M137.94 374.1 v1.5 M144.32 512.9 v-1.5 M144.32 374.1 v1.5 M150.70 512.9 v-2.3 M150.70 374.1 v2.3 M157.08 512.9 v-1.5 M157.08 374.1 v1.5 M163.46 512.9 v-1.5 M163.46 374.1 v1.5 M169.84 512.9 v-1.5 M169.84 374.1 v1.5 M176.22 512.9 v-1.5 M176.22 374.1 v1.5 M182.60 512.9 v-2.3 M182.60 374.1 v2.3 M188.98 512.9 v-1.5 M188.98 374.1 v1.5 M195.36 512.9 v-1.5 M195.36 374.1 v1.5 M201.74 512.9 v-1.5 M201.74 374.1 v1.5 M208.12 512.9 v-1.5 M208.12 374.1 v1.5 M214.50 512.9 v-2.3 M214.50 374.1 v2.3 M220.88 512.9 v-1.5 M220.88 374.1 v1.5 M227.26 512.9 v-1.5 M227.26 374.1 v1.5 M233.64 512.9 v-1.5 M233.64 374.1 v1.5 M240.02 512.9 v-1.5 M240.02 374.1 v1.5 M246.40 512.9 v-2.3 M246.40 374.1 v2.3 M118.8 512.90 h2.2 M246.4 512.90 h-2.2 M118.8 504.54 h1.1 M246.4 504.54 h-1.1 M118.8 499.66 h1.1 M246.4 499.66 h-1.1 M118.8 496.19 h1.1 M246.4 496.19 h-1.1 M118.8 493.50 h1.1 M246.4 493.50 h-1.1 M118.8 491.30 h1.1 M246.4 491.30 h-1.1 M118.8 489.44 h1.1 M246.4 489.44 h-1.1 M118.8 487.83 h1.1 M246.4 487.83 h-1.1 M118.8 486.41 h1.1 M246.4 486.41 h-1.1 M118.8 485.14 h2.2 M246.4 485.14 h-2.2 M118.8 476.78 h1.1 M246.4 476.78 h-1.1 M118.8 471.90 h1.1 M246.4 471.90 h-1.1 M118.8 468.43 h1.1 M246.4 468.43 h-1.1 M118.8 465.74 h1.1 M246.4 465.74 h-1.1 M118.8 463.54 h1.1 M246.4 463.54 h-1.1 M118.8 461.68 h1.1 M246.4 461.68 h-1.1 M118.8 460.07 h1.1 M246.4 460.07 h-1.1 M118.8 458.65 h1.1 M246.4 458.65 h-1.1 M118.8 457.38 h2.2 M246.4 457.38 h-2.2 M118.8 449.02 h1.1 M246.4 449.02 h-1.1 M118.8 444.14 h1.1 M246.4 444.14 h-1.1 M118.8 440.67 h1.1 M246.4 440.67 h-1.1 M118.8 437.98 h1.1 M246.4 437.98 h-1.1 M118.8 435.78 h1.1 M246.4 435.78 h-1.1 M118.8 433.92 h1.1 M246.4 433.92 h-1.1 M118.8 432.31 h1.1 M246.4 432.31 h-1.1 M118.8 430.89 h1.1 M246.4 430.89 h-1.1 M118.8 429.62 h2.2 M246.4 429.62 h-2.2 M118.8 421.26 h1.1 M246.4 421.26 h-1.1 M118.8 416.38 h1.1 M246.4 416.38 h-1.1 M118.8 412.91 h1.1 M246.4 412.91 h-1.1 M118.8 410.22 h1.1 M246.4 410.22 h-1.1 M118.8 408.02 h1.1 M246.4 408.02 h-1.1 M118.8 406.16 h1.1 M246.4 406.16 h-1.1 M118.8 404.55 h1.1 M246.4 404.55 h-1.1 M118.8 403.13 h1.1 M246.4 403.13 h-1.1 M118.8 401.86 h2.2 M246.4 401.86 h-2.2 M118.8 393.50 h1.1 M246.4 393.50 h-1.1 M118.8 388.62 h1.1 M246.4 388.62 h-1.1 M118.8 385.15 h1.1 M246.4 385.15 h-1.1 M118.8 382.46 h1.1 M246.4 382.46 h-1.1 M118.8 380.26 h1.1 M246.4 380.26 h-1.1 M118.8 378.40 h1.1 M246.4 378.40 h-1.1 M118.8 376.79 h1.1 M246.4 376.79 h-1.1 M118.8 375.37 h1.1 M246.4 375.37 h-1.1 M118.8 374.10 h2.2 M246.4 374.10 h-2.2" stroke="#000" stroke-width="0.5" fill="none"/>
<rect x="118.8" y="374.1" width="127.60000000000001" height="138.79999999999995" fill="none" stroke="#000" stroke-width="1.45"/>
<g font-family="Liberation Sans, sans-serif" fill="#000">
<text x="118.80" y="529.8" font-size="13" text-anchor="middle">0</text>
<text x="150.70" y="529.8" font-size="13" text-anchor="middle">5</text>
<text x="182.60" y="529.8" font-size="13" text-anchor="middle">10</text>
<text x="214.50" y="529.8" font-size="13" text-anchor="middle">15</text>
<text x="246.40" y="529.8" font-size="13" text-anchor="middle">20</text>
<text x="101.0" y="516.90" font-size="13" text-anchor="end">10</text><text x="100.7" y="511.30" font-size="10.6">−8</text>
<text x="101.0" y="489.14" font-size="13" text-anchor="end">10</text><text x="100.7" y="483.54" font-size="10.6">−7</text>
<text x="101.0" y="461.38" font-size="13" text-anchor="end">10</text><text x="100.7" y="455.78" font-size="10.6">−6</text>
<text x="101.0" y="433.62" font-size="13" text-anchor="end">10</text><text x="100.7" y="428.02" font-size="10.6">−5</text>
<text x="101.0" y="405.86" font-size="13" text-anchor="end">10</text><text x="100.7" y="400.26" font-size="10.6">−4</text>
<text x="101.0" y="378.10" font-size="13" text-anchor="end">10</text><text x="100.7" y="372.50" font-size="10.6">−3</text>
</g>
</svg>
</body></html>
